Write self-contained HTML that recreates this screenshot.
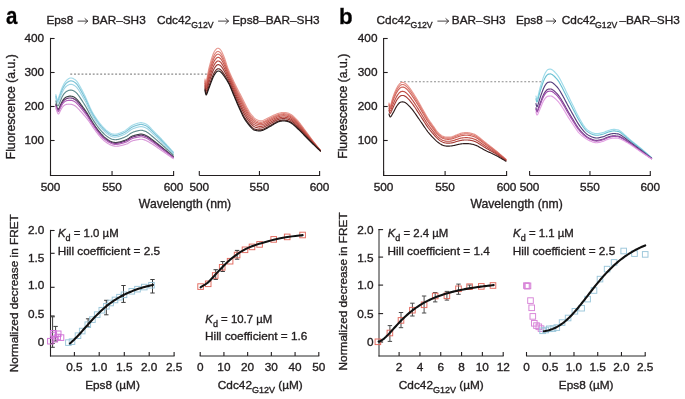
<!DOCTYPE html>
<html><head><meta charset="utf-8"><style>
html,body{margin:0;padding:0;background:#fff;}
body{width:685px;height:399px;overflow:hidden;}
svg{display:block;font-family:"Liberation Sans", sans-serif;filter:blur(0.25px);}
text{stroke:#231f20;stroke-width:0.35px;}
</style></head><body>
<svg width="685" height="399" viewBox="0 0 685 399">
<rect width="685" height="399" fill="#fff"/>
<text x="0" y="0" font-size="25" font-weight="bold" fill="#000" transform="translate(6.1,24.4) scale(0.82,0.95)">a</text>
<text x="0" y="0" font-size="23" font-weight="bold" fill="#000" transform="translate(338.9,23.6) scale(0.97,1)">b</text>
<text x="46.45" y="24.0" font-size="11.8" fill="#231f20">Eps8</text>
<path d="M77.6,21.1 H87.8 M84.7,18.400000000000002 L87.8,21.1 L84.7,23.8" fill="none" stroke="#231f20" stroke-width="0.85" stroke-linejoin="miter"/>
<text x="91.95" y="24.0" font-size="11.8" fill="#231f20">BAR–SH3</text>
<text x="157.0" y="24.0" font-size="11.8" fill="#231f20">Cdc42</text>
<text x="191.3" y="27.7" font-size="8.7" fill="#231f20">G12V</text>
<path d="M218.1,21.1 H228.6 M225.5,18.400000000000002 L228.6,21.1 L225.5,23.8" fill="none" stroke="#231f20" stroke-width="0.85" stroke-linejoin="miter"/>
<text x="232.25" y="24.0" font-size="11.8" fill="#231f20">Eps8–BAR–SH3</text>
<text x="376.6" y="24.0" font-size="11.8" fill="#231f20">Cdc42</text>
<text x="410.4" y="27.7" font-size="8.7" fill="#231f20">G12V</text>
<path d="M437.4,21.1 H448.7 M445.59999999999997,18.400000000000002 L448.7,21.1 L445.59999999999997,23.8" fill="none" stroke="#231f20" stroke-width="0.85" stroke-linejoin="miter"/>
<text x="451.85" y="24.0" font-size="11.8" fill="#231f20">BAR–SH3</text>
<text x="515.95" y="24.0" font-size="11.8" fill="#231f20">Eps8</text>
<path d="M545.8,21.1 H556.0 M552.9,18.400000000000002 L556.0,21.1 L552.9,23.8" fill="none" stroke="#231f20" stroke-width="0.85" stroke-linejoin="miter"/>
<text x="561.8" y="24.0" font-size="11.8" fill="#231f20">Cdc42</text>
<text x="595.1" y="27.7" font-size="8.7" fill="#231f20">G12V</text>
<text x="619.4" y="24.0" font-size="11.8" fill="#231f20">–BAR–SH3</text>
<line x1="49.95" y1="175.5" x2="174.1" y2="175.5" stroke="#231f20" stroke-width="1.1" />
<line x1="50.5" y1="175.5" x2="50.5" y2="170.9" stroke="#231f20" stroke-width="1.1" />
<line x1="112.05" y1="175.5" x2="112.05" y2="170.9" stroke="#231f20" stroke-width="1.1" />
<line x1="173.6" y1="175.5" x2="173.6" y2="170.9" stroke="#231f20" stroke-width="1.1" />
<text x="50.5" y="190.7" font-size="11.8" text-anchor="middle" font-weight="normal"  fill="#231f20" >500</text>
<text x="112.05" y="190.7" font-size="11.8" text-anchor="middle" font-weight="normal"  fill="#231f20" >550</text>
<text x="173.6" y="190.7" font-size="11.8" text-anchor="middle" font-weight="normal"  fill="#231f20" >600</text>
<line x1="50.5" y1="37.9" x2="50.5" y2="176.05" stroke="#231f20" stroke-width="1.1" />
<line x1="50.0" y1="38.5" x2="54.6" y2="38.5" stroke="#231f20" stroke-width="1.1" />
<text x="44.2" y="41.9" font-size="11.8" text-anchor="end" font-weight="normal"  fill="#231f20" >400</text>
<line x1="50.0" y1="72.5" x2="54.6" y2="72.5" stroke="#231f20" stroke-width="1.1" />
<text x="44.2" y="75.9" font-size="11.8" text-anchor="end" font-weight="normal"  fill="#231f20" >300</text>
<line x1="50.0" y1="106.5" x2="54.6" y2="106.5" stroke="#231f20" stroke-width="1.1" />
<text x="44.2" y="109.9" font-size="11.8" text-anchor="end" font-weight="normal"  fill="#231f20" >200</text>
<line x1="50.0" y1="140.5" x2="54.6" y2="140.5" stroke="#231f20" stroke-width="1.1" />
<text x="44.2" y="143.9" font-size="11.8" text-anchor="end" font-weight="normal"  fill="#231f20" >100</text>
<line x1="199.3" y1="175.5" x2="320.1" y2="175.5" stroke="#231f20" stroke-width="1.1" />
<line x1="199.3" y1="175.5" x2="199.3" y2="170.9" stroke="#231f20" stroke-width="1.1" />
<line x1="259.45000000000005" y1="175.5" x2="259.45000000000005" y2="170.9" stroke="#231f20" stroke-width="1.1" />
<line x1="319.6" y1="175.5" x2="319.6" y2="170.9" stroke="#231f20" stroke-width="1.1" />
<text x="199.3" y="190.7" font-size="11.8" text-anchor="middle" font-weight="normal"  fill="#231f20" >500</text>
<text x="259.45" y="190.7" font-size="11.8" text-anchor="middle" font-weight="normal"  fill="#231f20" >550</text>
<text x="319.6" y="190.7" font-size="11.8" text-anchor="middle" font-weight="normal"  fill="#231f20" >600</text>
<line x1="383.05" y1="175.5" x2="507.1" y2="175.5" stroke="#231f20" stroke-width="1.1" />
<line x1="383.6" y1="175.5" x2="383.6" y2="170.9" stroke="#231f20" stroke-width="1.1" />
<line x1="445.1" y1="175.5" x2="445.1" y2="170.9" stroke="#231f20" stroke-width="1.1" />
<line x1="506.6" y1="175.5" x2="506.6" y2="170.9" stroke="#231f20" stroke-width="1.1" />
<text x="383.6" y="190.7" font-size="11.8" text-anchor="middle" font-weight="normal"  fill="#231f20" >500</text>
<text x="445.1" y="190.7" font-size="11.8" text-anchor="middle" font-weight="normal"  fill="#231f20" >550</text>
<text x="506.6" y="190.7" font-size="11.8" text-anchor="middle" font-weight="normal"  fill="#231f20" >600</text>
<line x1="383.6" y1="37.9" x2="383.6" y2="176.05" stroke="#231f20" stroke-width="1.1" />
<line x1="383.1" y1="38.5" x2="387.70000000000005" y2="38.5" stroke="#231f20" stroke-width="1.1" />
<text x="377.5" y="41.9" font-size="11.8" text-anchor="end" font-weight="normal"  fill="#231f20" >400</text>
<line x1="383.1" y1="72.5" x2="387.70000000000005" y2="72.5" stroke="#231f20" stroke-width="1.1" />
<text x="377.5" y="75.9" font-size="11.8" text-anchor="end" font-weight="normal"  fill="#231f20" >300</text>
<line x1="383.1" y1="106.5" x2="387.70000000000005" y2="106.5" stroke="#231f20" stroke-width="1.1" />
<text x="377.5" y="109.9" font-size="11.8" text-anchor="end" font-weight="normal"  fill="#231f20" >200</text>
<line x1="383.1" y1="140.5" x2="387.70000000000005" y2="140.5" stroke="#231f20" stroke-width="1.1" />
<text x="377.5" y="143.9" font-size="11.8" text-anchor="end" font-weight="normal"  fill="#231f20" >100</text>
<line x1="529.6" y1="175.5" x2="650.8" y2="175.5" stroke="#231f20" stroke-width="1.1" />
<line x1="529.6" y1="175.5" x2="529.6" y2="170.9" stroke="#231f20" stroke-width="1.1" />
<line x1="589.95" y1="175.5" x2="589.95" y2="170.9" stroke="#231f20" stroke-width="1.1" />
<line x1="650.3" y1="175.5" x2="650.3" y2="170.9" stroke="#231f20" stroke-width="1.1" />
<text x="529.6" y="190.7" font-size="11.8" text-anchor="middle" font-weight="normal"  fill="#231f20" >500</text>
<text x="589.95" y="190.7" font-size="11.8" text-anchor="middle" font-weight="normal"  fill="#231f20" >550</text>
<text x="650.3" y="190.7" font-size="11.8" text-anchor="middle" font-weight="normal"  fill="#231f20" >600</text>
<text x="185.0" y="207.5" font-size="12.2" text-anchor="middle" font-weight="normal"  fill="#231f20" >Wavelength (nm)</text>
<text x="516.6" y="207.5" font-size="12.2" text-anchor="middle" font-weight="normal"  fill="#231f20" >Wavelength (nm)</text>
<text x="0" y="0" font-size="12.2" fill="#231f20" text-anchor="middle" transform="translate(15.0,106.8) rotate(-90)">Fluorescence (a.u.)</text>
<text x="0" y="0" font-size="12.2" fill="#231f20" text-anchor="middle" transform="translate(347.4,106.3) rotate(-90)">Fluorescence (a.u.)</text>
<line x1="70.3" y1="74.05" x2="207.8" y2="74.05" stroke="#8a8a8a" stroke-width="1.15" stroke-dasharray="1.9 1.84"/>
<line x1="400.2" y1="81.75" x2="543.3" y2="81.75" stroke="#8a8a8a" stroke-width="1.1" stroke-dasharray="1.9 1.86"/>
<path d="M55.90,94.50 L56.40,97.24 L56.90,99.35 L57.40,99.98 L57.90,99.32 L58.40,98.09 L58.90,96.67 L59.40,95.26 L59.90,93.92 L60.40,92.48 L60.90,91.00 L61.40,89.57 L61.90,88.24 L62.40,87.06 L62.90,85.95 L63.40,84.92 L63.90,83.99 L64.40,83.16 L64.90,82.41 L65.40,81.72 L65.90,81.10 L66.40,80.53 L66.90,80.03 L67.40,79.58 L67.90,79.19 L68.40,78.85 L68.90,78.56 L69.40,78.33 L69.90,78.15 L70.40,78.04 L70.90,77.99 L71.40,78.00 L71.90,78.06 L72.40,78.19 L72.90,78.38 L73.40,78.63 L73.90,78.93 L74.40,79.27 L74.90,79.59 L75.40,79.95 L75.90,80.37 L76.40,80.87 L76.90,81.45 L77.40,82.12 L77.90,82.85 L78.40,83.63 L78.90,84.46 L79.40,85.32 L79.90,86.20 L80.40,87.10 L80.90,88.01 L81.40,88.95 L81.90,89.89 L82.40,90.85 L82.90,91.82 L83.40,92.80 L83.90,93.79 L84.40,94.79 L84.90,95.80 L85.40,96.83 L85.90,97.91 L86.40,99.03 L86.90,100.18 L87.40,101.36 L87.90,102.54 L88.40,103.72 L88.90,104.90 L89.40,106.06 L89.90,107.19 L90.40,108.29 L90.90,109.35 L91.40,110.36 L91.90,111.31 L92.40,112.22 L92.90,113.10 L93.40,113.96 L93.90,114.79 L94.40,115.60 L94.90,116.39 L95.40,117.16 L95.90,117.91 L96.40,118.65 L96.90,119.37 L97.40,120.07 L97.90,120.76 L98.40,121.43 L98.90,122.09 L99.40,122.74 L99.90,123.37 L100.40,123.99 L100.90,124.60 L101.40,125.19 L101.90,125.76 L102.40,126.33 L102.90,126.87 L103.40,127.40 L103.90,127.92 L104.40,128.42 L104.90,128.90 L105.40,129.37 L105.90,129.82 L106.40,130.25 L106.90,130.66 L107.40,131.06 L107.90,131.43 L108.40,131.78 L108.90,132.12 L109.40,132.45 L109.90,132.76 L110.40,133.04 L110.90,133.30 L111.40,133.52 L111.90,133.71 L112.40,133.87 L112.90,134.00 L113.40,134.10 L113.90,134.16 L114.40,134.19 L114.90,134.20 L115.40,134.18 L115.90,134.13 L116.40,134.06 L116.90,133.96 L117.40,133.85 L117.90,133.72 L118.40,133.57 L118.90,133.41 L119.40,133.24 L119.90,133.05 L120.40,132.86 L120.90,132.65 L121.40,132.44 L121.90,132.22 L122.40,131.99 L122.90,131.75 L123.40,131.50 L123.90,131.25 L124.40,130.98 L124.90,130.69 L125.40,130.37 L125.90,130.02 L126.40,129.66 L126.90,129.28 L127.40,128.89 L127.90,128.49 L128.40,128.08 L128.90,127.68 L129.40,127.28 L129.90,126.90 L130.40,126.53 L130.90,126.18 L131.40,125.85 L131.90,125.56 L132.40,125.29 L132.90,125.04 L133.40,124.81 L133.90,124.59 L134.40,124.38 L134.90,124.19 L135.40,124.00 L135.90,123.83 L136.40,123.66 L136.90,123.50 L137.40,123.35 L137.90,123.21 L138.40,123.07 L138.90,122.94 L139.40,122.82 L139.90,122.72 L140.40,122.63 L140.90,122.59 L141.40,122.60 L141.90,122.69 L142.40,122.83 L142.90,122.97 L143.40,123.11 L143.90,123.24 L144.40,123.39 L144.90,123.55 L145.40,123.75 L145.90,123.98 L146.40,124.26 L146.90,124.57 L147.40,124.92 L147.90,125.32 L148.40,125.76 L148.90,126.23 L149.40,126.72 L149.90,127.22 L150.40,127.74 L150.90,128.26 L151.40,128.79 L151.90,129.32 L152.40,129.85 L152.90,130.38 L153.40,130.89 L153.90,131.40 L154.40,131.90 L154.90,132.39 L155.40,132.89 L155.90,133.38 L156.40,133.87 L156.90,134.36 L157.40,134.86 L157.90,135.36 L158.40,135.86 L158.90,136.36 L159.40,136.87 L159.90,137.39 L160.40,137.92 L160.90,138.45 L161.40,138.99 L161.90,139.53 L162.40,140.08 L162.90,140.63 L163.40,141.18 L163.90,141.74 L164.40,142.29 L164.90,142.85 L165.40,143.41 L165.90,143.96 L166.40,144.51 L166.90,145.06 L167.40,145.61 L167.90,146.16 L168.40,146.71 L168.90,147.26 L169.40,147.81 L169.90,148.36 L170.40,148.91 L170.90,149.47 L171.40,150.02 L171.90,150.57 L172.40,151.12 L172.90,151.67 L173.20,152.00" fill="none" stroke="#a6dcea" stroke-width="1.15" stroke-linejoin="round" stroke-linecap="round" />
<path d="M55.90,96.04 L56.40,98.63 L56.90,100.66 L57.40,101.37 L57.90,100.88 L58.40,99.85 L58.90,98.54 L59.40,97.19 L59.90,95.88 L60.40,94.48 L60.90,93.07 L61.40,91.70 L61.90,90.42 L62.40,89.28 L62.90,88.22 L63.40,87.25 L63.90,86.37 L64.40,85.59 L64.90,84.88 L65.40,84.25 L65.90,83.68 L66.40,83.16 L66.90,82.70 L67.40,82.30 L67.90,81.95 L68.40,81.64 L68.90,81.38 L69.40,81.17 L69.90,81.02 L70.40,80.92 L70.90,80.89 L71.40,80.90 L71.90,80.97 L72.40,81.09 L72.90,81.28 L73.40,81.52 L73.90,81.82 L74.40,82.14 L74.90,82.47 L75.40,82.82 L75.90,83.24 L76.40,83.74 L76.90,84.31 L77.40,84.95 L77.90,85.66 L78.40,86.41 L78.90,87.21 L79.40,88.03 L79.90,88.87 L80.40,89.73 L80.90,90.61 L81.40,91.50 L81.90,92.40 L82.40,93.32 L82.90,94.24 L83.40,95.18 L83.90,96.12 L84.40,97.07 L84.90,98.03 L85.40,99.02 L85.90,100.04 L86.40,101.11 L86.90,102.20 L87.40,103.32 L87.90,104.44 L88.40,105.57 L88.90,106.70 L89.40,107.81 L89.90,108.90 L90.40,109.95 L90.90,110.98 L91.40,111.96 L91.90,112.89 L92.40,113.78 L92.90,114.64 L93.40,115.49 L93.90,116.31 L94.40,117.11 L94.90,117.89 L95.40,118.65 L95.90,119.40 L96.40,120.13 L96.90,120.84 L97.40,121.54 L97.90,122.22 L98.40,122.89 L98.90,123.55 L99.40,124.19 L99.90,124.82 L100.40,125.43 L100.90,126.03 L101.40,126.62 L101.90,127.18 L102.40,127.74 L102.90,128.28 L103.40,128.80 L103.90,129.31 L104.40,129.80 L104.90,130.27 L105.40,130.73 L105.90,131.17 L106.40,131.59 L106.90,132.00 L107.40,132.39 L107.90,132.75 L108.40,133.10 L108.90,133.44 L109.40,133.76 L109.90,134.06 L110.40,134.34 L110.90,134.59 L111.40,134.82 L111.90,135.01 L112.40,135.17 L112.90,135.30 L113.40,135.40 L113.90,135.46 L114.40,135.51 L114.90,135.52 L115.40,135.51 L115.90,135.47 L116.40,135.40 L116.90,135.31 L117.40,135.21 L117.90,135.08 L118.40,134.95 L118.90,134.79 L119.40,134.63 L119.90,134.46 L120.40,134.27 L120.90,134.08 L121.40,133.87 L121.90,133.66 L122.40,133.44 L122.90,133.22 L123.40,132.98 L123.90,132.74 L124.40,132.49 L124.90,132.21 L125.40,131.91 L125.90,131.59 L126.40,131.25 L126.90,130.89 L127.40,130.51 L127.90,130.13 L128.40,129.74 L128.90,129.34 L129.40,128.95 L129.90,128.57 L130.40,128.20 L130.90,127.86 L131.40,127.54 L131.90,127.26 L132.40,127.00 L132.90,126.77 L133.40,126.54 L133.90,126.33 L134.40,126.14 L134.90,125.95 L135.40,125.77 L135.90,125.60 L136.40,125.45 L136.90,125.29 L137.40,125.15 L137.90,125.01 L138.40,124.88 L138.90,124.76 L139.40,124.65 L139.90,124.54 L140.40,124.46 L140.90,124.42 L141.40,124.43 L141.90,124.52 L142.40,124.65 L142.90,124.79 L143.40,124.92 L143.90,125.06 L144.40,125.20 L144.90,125.37 L145.40,125.57 L145.90,125.80 L146.40,126.07 L146.90,126.38 L147.40,126.72 L147.90,127.10 L148.40,127.52 L148.90,127.97 L149.40,128.44 L149.90,128.92 L150.40,129.41 L150.90,129.91 L151.40,130.42 L151.90,130.93 L152.40,131.43 L152.90,131.93 L153.40,132.43 L153.90,132.91 L154.40,133.39 L154.90,133.87 L155.40,134.35 L155.90,134.82 L156.40,135.30 L156.90,135.78 L157.40,136.26 L157.90,136.74 L158.40,137.23 L158.90,137.71 L159.40,138.21 L159.90,138.71 L160.40,139.21 L160.90,139.72 L161.40,140.24 L161.90,140.76 L162.40,141.29 L162.90,141.82 L163.40,142.35 L163.90,142.88 L164.40,143.42 L164.90,143.95 L165.40,144.48 L165.90,145.01 L166.40,145.54 L166.90,146.07 L167.40,146.59 L167.90,147.12 L168.40,147.65 L168.90,148.18 L169.40,148.71 L169.90,149.24 L170.40,149.77 L170.90,150.29 L171.40,150.82 L171.90,151.35 L172.40,151.88 L172.90,152.41 L173.20,152.73" fill="none" stroke="#7cc3d6" stroke-width="1.15" stroke-linejoin="round" stroke-linecap="round" />
<path d="M55.90,97.86 L56.40,100.27 L56.90,102.22 L57.40,103.00 L57.90,102.74 L58.40,101.92 L58.90,100.76 L59.40,99.48 L59.90,98.19 L60.40,96.84 L60.90,95.52 L61.40,94.22 L61.90,93.00 L62.40,91.91 L62.90,90.91 L63.40,90.00 L63.90,89.18 L64.40,88.46 L64.90,87.81 L65.40,87.24 L65.90,86.72 L66.40,86.26 L66.90,85.86 L67.40,85.50 L67.90,85.20 L68.40,84.93 L68.90,84.71 L69.40,84.54 L69.90,84.41 L70.40,84.33 L70.90,84.31 L71.40,84.33 L71.90,84.41 L72.40,84.53 L72.90,84.71 L73.40,84.95 L73.90,85.23 L74.40,85.55 L74.90,85.87 L75.40,86.22 L75.90,86.64 L76.40,87.13 L76.90,87.68 L77.40,88.31 L77.90,88.98 L78.40,89.70 L78.90,90.45 L79.40,91.23 L79.90,92.03 L80.40,92.85 L80.90,93.68 L81.40,94.52 L81.90,95.37 L82.40,96.24 L82.90,97.11 L83.40,97.99 L83.90,98.88 L84.40,99.77 L84.90,100.68 L85.40,101.60 L85.90,102.57 L86.40,103.56 L86.90,104.59 L87.40,105.64 L87.90,106.70 L88.40,107.76 L88.90,108.82 L89.40,109.88 L89.90,110.91 L90.40,111.92 L90.90,112.90 L91.40,113.85 L91.90,114.75 L92.40,115.62 L92.90,116.46 L93.40,117.29 L93.90,118.10 L94.40,118.89 L94.90,119.66 L95.40,120.41 L95.90,121.15 L96.40,121.88 L96.90,122.59 L97.40,123.28 L97.90,123.95 L98.40,124.61 L98.90,125.26 L99.40,125.90 L99.90,126.52 L100.40,127.13 L100.90,127.72 L101.40,128.30 L101.90,128.86 L102.40,129.41 L102.90,129.94 L103.40,130.45 L103.90,130.95 L104.40,131.43 L104.90,131.90 L105.40,132.34 L105.90,132.77 L106.40,133.18 L106.90,133.58 L107.40,133.96 L107.90,134.32 L108.40,134.66 L108.90,134.99 L109.40,135.31 L109.90,135.60 L110.40,135.88 L110.90,136.13 L111.40,136.35 L111.90,136.54 L112.40,136.70 L112.90,136.83 L113.40,136.94 L113.90,137.01 L114.40,137.06 L114.90,137.08 L115.40,137.07 L115.90,137.04 L116.40,136.98 L116.90,136.91 L117.40,136.81 L117.90,136.70 L118.40,136.57 L118.90,136.43 L119.40,136.28 L119.90,136.12 L120.40,135.94 L120.90,135.76 L121.40,135.57 L121.90,135.37 L122.40,135.17 L122.90,134.95 L123.40,134.73 L123.90,134.51 L124.40,134.27 L124.90,134.01 L125.40,133.73 L125.90,133.43 L126.40,133.12 L126.90,132.78 L127.40,132.43 L127.90,132.07 L128.40,131.69 L128.90,131.31 L129.40,130.92 L129.90,130.55 L130.40,130.19 L130.90,129.85 L131.40,129.55 L131.90,129.27 L132.40,129.03 L132.90,128.80 L133.40,128.59 L133.90,128.39 L134.40,128.21 L134.90,128.03 L135.40,127.86 L135.90,127.71 L136.40,127.56 L136.90,127.41 L137.40,127.28 L137.90,127.15 L138.40,127.03 L138.90,126.91 L139.40,126.80 L139.90,126.71 L140.40,126.63 L140.90,126.58 L141.40,126.59 L141.90,126.67 L142.40,126.80 L142.90,126.93 L143.40,127.07 L143.90,127.20 L144.40,127.35 L144.90,127.52 L145.40,127.72 L145.90,127.95 L146.40,128.21 L146.90,128.51 L147.40,128.84 L147.90,129.21 L148.40,129.61 L148.90,130.03 L149.40,130.47 L149.90,130.92 L150.40,131.39 L150.90,131.86 L151.40,132.34 L151.90,132.82 L152.40,133.30 L152.90,133.77 L153.40,134.24 L153.90,134.70 L154.40,135.16 L154.90,135.62 L155.40,136.08 L155.90,136.53 L156.40,136.99 L156.90,137.45 L157.40,137.91 L157.90,138.38 L158.40,138.84 L158.90,139.31 L159.40,139.79 L159.90,140.26 L160.40,140.75 L160.90,141.23 L161.40,141.73 L161.90,142.22 L162.40,142.72 L162.90,143.22 L163.40,143.73 L163.90,144.23 L164.40,144.74 L164.90,145.25 L165.40,145.75 L165.90,146.25 L166.40,146.76 L166.90,147.26 L167.40,147.76 L167.90,148.26 L168.40,148.76 L168.90,149.26 L169.40,149.77 L169.90,150.27 L170.40,150.77 L170.90,151.27 L171.40,151.78 L171.90,152.28 L172.40,152.78 L172.90,153.28 L173.20,153.58" fill="none" stroke="#9fd6e6" stroke-width="1.15" stroke-linejoin="round" stroke-linecap="round" />
<path d="M55.90,100.94 L56.40,103.06 L56.90,104.85 L57.40,105.77 L57.90,105.87 L58.40,105.42 L58.90,104.51 L59.40,103.34 L59.90,102.10 L60.40,100.85 L60.90,99.66 L61.40,98.48 L61.90,97.36 L62.40,96.36 L62.90,95.45 L63.40,94.65 L63.90,93.94 L64.40,93.31 L64.90,92.77 L65.40,92.29 L65.90,91.88 L66.40,91.51 L66.90,91.20 L67.40,90.93 L67.90,90.70 L68.40,90.51 L68.90,90.35 L69.40,90.23 L69.90,90.15 L70.40,90.10 L70.90,90.10 L71.40,90.14 L71.90,90.22 L72.40,90.35 L72.90,90.52 L73.40,90.74 L73.90,91.01 L74.40,91.31 L74.90,91.62 L75.40,91.98 L75.90,92.39 L76.40,92.86 L76.90,93.39 L77.40,93.98 L77.90,94.60 L78.40,95.26 L78.90,95.95 L79.40,96.65 L79.90,97.38 L80.40,98.12 L80.90,98.87 L81.40,99.63 L81.90,100.40 L82.40,101.18 L82.90,101.97 L83.40,102.76 L83.90,103.55 L84.40,104.35 L84.90,105.15 L85.40,105.97 L85.90,106.83 L86.40,107.72 L86.90,108.63 L87.40,109.56 L87.90,110.51 L88.40,111.46 L88.90,112.42 L89.40,113.37 L89.90,114.32 L90.40,115.25 L90.90,116.16 L91.40,117.04 L91.90,117.90 L92.40,118.73 L92.90,119.54 L93.40,120.34 L93.90,121.13 L94.40,121.90 L94.90,122.65 L95.40,123.40 L95.90,124.13 L96.40,124.84 L96.90,125.54 L97.40,126.22 L97.90,126.88 L98.40,127.53 L98.90,128.17 L99.40,128.79 L99.90,129.40 L100.40,130.00 L100.90,130.58 L101.40,131.15 L101.90,131.70 L102.40,132.24 L102.90,132.75 L103.40,133.25 L103.90,133.73 L104.40,134.20 L104.90,134.64 L105.40,135.07 L105.90,135.48 L106.40,135.88 L106.90,136.26 L107.40,136.62 L107.90,136.97 L108.40,137.30 L108.90,137.62 L109.40,137.93 L109.90,138.21 L110.40,138.48 L110.90,138.72 L111.40,138.94 L111.90,139.13 L112.40,139.29 L112.90,139.43 L113.40,139.54 L113.90,139.62 L114.40,139.68 L114.90,139.71 L115.40,139.72 L115.90,139.71 L116.40,139.66 L116.90,139.60 L117.40,139.52 L117.90,139.43 L118.40,139.32 L118.90,139.20 L119.40,139.07 L119.90,138.92 L120.40,138.77 L120.90,138.61 L121.40,138.44 L121.90,138.26 L122.40,138.08 L122.90,137.89 L123.40,137.70 L123.90,137.50 L124.40,137.29 L124.90,137.06 L125.40,136.82 L125.90,136.56 L126.40,136.29 L126.90,136.00 L127.40,135.68 L127.90,135.35 L128.40,135.00 L128.90,134.63 L129.40,134.26 L129.90,133.89 L130.40,133.55 L130.90,133.22 L131.40,132.93 L131.90,132.68 L132.40,132.45 L132.90,132.25 L133.40,132.06 L133.90,131.88 L134.40,131.71 L134.90,131.56 L135.40,131.41 L135.90,131.26 L136.40,131.13 L136.90,131.00 L137.40,130.88 L137.90,130.76 L138.40,130.66 L138.90,130.55 L139.40,130.45 L139.90,130.37 L140.40,130.29 L140.90,130.25 L141.40,130.25 L141.90,130.32 L142.40,130.43 L142.90,130.56 L143.40,130.69 L143.90,130.83 L144.40,130.99 L144.90,131.16 L145.40,131.36 L145.90,131.59 L146.40,131.84 L146.90,132.13 L147.40,132.43 L147.90,132.77 L148.40,133.13 L148.90,133.51 L149.40,133.91 L149.90,134.32 L150.40,134.74 L150.90,135.16 L151.40,135.59 L151.90,136.02 L152.40,136.45 L152.90,136.88 L153.40,137.31 L153.90,137.73 L154.40,138.15 L154.90,138.58 L155.40,139.00 L155.90,139.42 L156.40,139.85 L156.90,140.28 L157.40,140.71 L157.90,141.15 L158.40,141.58 L158.90,142.02 L159.40,142.46 L159.90,142.90 L160.40,143.34 L160.90,143.79 L161.40,144.24 L161.90,144.69 L162.40,145.15 L162.90,145.60 L163.40,146.06 L163.90,146.52 L164.40,146.98 L164.90,147.44 L165.40,147.90 L165.90,148.36 L166.40,148.82 L166.90,149.27 L167.40,149.73 L167.90,150.19 L168.40,150.64 L168.90,151.10 L169.40,151.56 L169.90,152.02 L170.40,152.47 L170.90,152.93 L171.40,153.39 L171.90,153.85 L172.40,154.30 L172.90,154.76 L173.20,155.04" fill="none" stroke="#5f8c8e" stroke-width="1.15" stroke-linejoin="round" stroke-linecap="round" />
<path d="M55.90,104.16 L56.40,105.96 L56.90,107.59 L57.40,108.67 L57.90,109.15 L58.40,109.09 L58.90,108.43 L59.40,107.38 L59.90,106.19 L60.40,105.03 L60.90,103.99 L61.40,102.93 L61.90,101.92 L62.40,101.01 L62.90,100.21 L63.40,99.52 L63.90,98.91 L64.40,98.39 L64.90,97.95 L65.40,97.58 L65.90,97.27 L66.40,97.00 L66.90,96.79 L67.40,96.61 L67.90,96.46 L68.40,96.34 L68.90,96.25 L69.40,96.18 L69.90,96.14 L70.40,96.14 L70.90,96.16 L71.40,96.21 L71.90,96.30 L72.40,96.43 L72.90,96.59 L73.40,96.80 L73.90,97.05 L74.40,97.33 L74.90,97.64 L75.40,97.99 L75.90,98.39 L76.40,98.85 L76.90,99.36 L77.40,99.91 L77.90,100.48 L78.40,101.07 L78.90,101.69 L79.40,102.32 L79.90,102.97 L80.40,103.63 L80.90,104.30 L81.40,104.97 L81.90,105.66 L82.40,106.35 L82.90,107.04 L83.40,107.74 L83.90,108.43 L84.40,109.13 L84.90,109.83 L85.40,110.54 L85.90,111.29 L86.40,112.06 L86.90,112.86 L87.40,113.67 L87.90,114.49 L88.40,115.33 L88.90,116.18 L89.40,117.03 L89.90,117.88 L90.40,118.73 L90.90,119.56 L91.40,120.39 L91.90,121.19 L92.40,121.98 L92.90,122.76 L93.40,123.53 L93.90,124.30 L94.40,125.05 L94.90,125.79 L95.40,126.52 L95.90,127.23 L96.40,127.94 L96.90,128.62 L97.40,129.29 L97.90,129.95 L98.40,130.58 L98.90,131.20 L99.40,131.82 L99.90,132.42 L100.40,133.00 L100.90,133.58 L101.40,134.13 L101.90,134.67 L102.40,135.19 L102.90,135.69 L103.40,136.18 L103.90,136.64 L104.40,137.09 L104.90,137.51 L105.40,137.92 L105.90,138.31 L106.40,138.69 L106.90,139.05 L107.40,139.40 L107.90,139.74 L108.40,140.06 L108.90,140.37 L109.40,140.67 L109.90,140.94 L110.40,141.20 L110.90,141.44 L111.40,141.65 L111.90,141.84 L112.40,142.00 L112.90,142.15 L113.40,142.26 L113.90,142.36 L114.40,142.42 L114.90,142.47 L115.40,142.50 L115.90,142.49 L116.40,142.47 L116.90,142.42 L117.40,142.36 L117.90,142.28 L118.40,142.19 L118.90,142.09 L119.40,141.98 L119.90,141.86 L120.40,141.73 L120.90,141.59 L121.40,141.44 L121.90,141.29 L122.40,141.13 L122.90,140.96 L123.40,140.79 L123.90,140.62 L124.40,140.44 L124.90,140.24 L125.40,140.04 L125.90,139.83 L126.40,139.60 L126.90,139.35 L127.40,139.08 L127.90,138.78 L128.40,138.45 L128.90,138.11 L129.40,137.75 L129.90,137.39 L130.40,137.05 L130.90,136.75 L131.40,136.47 L131.90,136.24 L132.40,136.04 L132.90,135.85 L133.40,135.68 L133.90,135.53 L134.40,135.38 L134.90,135.24 L135.40,135.11 L135.90,134.98 L136.40,134.86 L136.90,134.75 L137.40,134.65 L137.90,134.54 L138.40,134.45 L138.90,134.36 L139.40,134.27 L139.90,134.19 L140.40,134.12 L140.90,134.08 L141.40,134.08 L141.90,134.14 L142.40,134.24 L142.90,134.36 L143.40,134.49 L143.90,134.63 L144.40,134.79 L144.90,134.97 L145.40,135.17 L145.90,135.39 L146.40,135.64 L146.90,135.90 L147.40,136.19 L147.90,136.49 L148.40,136.82 L148.90,137.16 L149.40,137.51 L149.90,137.87 L150.40,138.24 L150.90,138.61 L151.40,138.99 L151.90,139.37 L152.40,139.75 L152.90,140.14 L153.40,140.52 L153.90,140.90 L154.40,141.28 L154.90,141.67 L155.40,142.06 L155.90,142.45 L156.40,142.84 L156.90,143.24 L157.40,143.64 L157.90,144.04 L158.40,144.44 L158.90,144.84 L159.40,145.25 L159.90,145.65 L160.40,146.05 L160.90,146.46 L161.40,146.86 L161.90,147.27 L162.40,147.68 L162.90,148.09 L163.40,148.50 L163.90,148.91 L164.40,149.32 L164.90,149.74 L165.40,150.15 L165.90,150.56 L166.40,150.97 L166.90,151.38 L167.40,151.79 L167.90,152.20 L168.40,152.61 L168.90,153.02 L169.40,153.43 L169.90,153.84 L170.40,154.25 L170.90,154.66 L171.40,155.07 L171.90,155.49 L172.40,155.90 L172.90,156.31 L173.20,156.55" fill="none" stroke="#3c4446" stroke-width="1.15" stroke-linejoin="round" stroke-linecap="round" />
<path d="M55.90,105.14 L56.40,106.85 L56.90,108.43 L57.40,109.55 L57.90,110.15 L58.40,110.20 L58.90,109.62 L59.40,108.61 L59.90,107.43 L60.40,106.30 L60.90,105.31 L61.40,104.29 L61.90,103.31 L62.40,102.42 L62.90,101.65 L63.40,101.00 L63.90,100.43 L64.40,99.94 L64.90,99.53 L65.40,99.19 L65.90,98.91 L66.40,98.67 L66.90,98.49 L67.40,98.33 L67.90,98.21 L68.40,98.11 L68.90,98.04 L69.40,97.99 L69.90,97.97 L70.40,97.97 L70.90,98.00 L71.40,98.06 L71.90,98.15 L72.40,98.28 L72.90,98.44 L73.40,98.64 L73.90,98.88 L74.40,99.16 L74.90,99.47 L75.40,99.82 L75.90,100.22 L76.40,100.68 L76.90,101.18 L77.40,101.71 L77.90,102.27 L78.40,102.84 L78.90,103.44 L79.40,104.05 L79.90,104.67 L80.40,105.31 L80.90,105.95 L81.40,106.60 L81.90,107.26 L82.40,107.92 L82.90,108.59 L83.40,109.26 L83.90,109.92 L84.40,110.58 L84.90,111.25 L85.40,111.93 L85.90,112.65 L86.40,113.38 L86.90,114.14 L87.40,114.92 L87.90,115.71 L88.40,116.51 L88.90,117.33 L89.40,118.15 L89.90,118.97 L90.40,119.79 L90.90,120.60 L91.40,121.40 L91.90,122.19 L92.40,122.97 L92.90,123.74 L93.40,124.51 L93.90,125.26 L94.40,126.01 L94.90,126.74 L95.40,127.46 L95.90,128.18 L96.40,128.88 L96.90,129.56 L97.40,130.23 L97.90,130.88 L98.40,131.51 L98.90,132.13 L99.40,132.74 L99.90,133.33 L100.40,133.92 L100.90,134.49 L101.40,135.04 L101.90,135.57 L102.40,136.09 L102.90,136.59 L103.40,137.07 L103.90,137.53 L104.40,137.97 L104.90,138.39 L105.40,138.79 L105.90,139.17 L106.40,139.54 L106.90,139.90 L107.40,140.25 L107.90,140.58 L108.40,140.90 L108.90,141.21 L109.40,141.50 L109.90,141.77 L110.40,142.03 L110.90,142.26 L111.40,142.47 L111.90,142.66 L112.40,142.83 L112.90,142.97 L113.40,143.09 L113.90,143.19 L114.40,143.26 L114.90,143.31 L115.40,143.34 L115.90,143.34 L116.40,143.32 L116.90,143.28 L117.40,143.22 L117.90,143.15 L118.40,143.07 L118.90,142.97 L119.40,142.87 L119.90,142.75 L120.40,142.63 L120.90,142.49 L121.40,142.36 L121.90,142.21 L122.40,142.06 L122.90,141.90 L123.40,141.74 L123.90,141.57 L124.40,141.39 L124.90,141.21 L125.40,141.02 L125.90,140.82 L126.40,140.61 L126.90,140.37 L127.40,140.11 L127.90,139.82 L128.40,139.50 L128.90,139.16 L129.40,138.81 L129.90,138.46 L130.40,138.12 L130.90,137.82 L131.40,137.55 L131.90,137.32 L132.40,137.13 L132.90,136.95 L133.40,136.79 L133.90,136.64 L134.40,136.49 L134.90,136.36 L135.40,136.23 L135.90,136.11 L136.40,136.00 L136.90,135.89 L137.40,135.79 L137.90,135.69 L138.40,135.60 L138.90,135.51 L139.40,135.43 L139.90,135.36 L140.40,135.29 L140.90,135.25 L141.40,135.24 L141.90,135.30 L142.40,135.40 L142.90,135.52 L143.40,135.64 L143.90,135.79 L144.40,135.95 L144.90,136.13 L145.40,136.33 L145.90,136.55 L146.40,136.79 L146.90,137.05 L147.40,137.33 L147.90,137.63 L148.40,137.94 L148.90,138.27 L149.40,138.60 L149.90,138.95 L150.40,139.30 L150.90,139.66 L151.40,140.02 L151.90,140.39 L152.40,140.76 L152.90,141.12 L153.40,141.49 L153.90,141.86 L154.40,142.23 L154.90,142.61 L155.40,142.99 L155.90,143.37 L156.40,143.75 L156.90,144.14 L157.40,144.53 L157.90,144.92 L158.40,145.31 L158.90,145.70 L159.40,146.10 L159.90,146.49 L160.40,146.88 L160.90,147.27 L161.40,147.66 L161.90,148.06 L162.40,148.45 L162.90,148.85 L163.40,149.24 L163.90,149.64 L164.40,150.04 L164.90,150.43 L165.40,150.83 L165.90,151.23 L166.40,151.62 L166.90,152.02 L167.40,152.42 L167.90,152.81 L168.40,153.21 L168.90,153.60 L169.40,154.00 L169.90,154.40 L170.40,154.79 L170.90,155.19 L171.40,155.59 L171.90,155.98 L172.40,156.38 L172.90,156.78 L173.20,157.02" fill="none" stroke="#6c3477" stroke-width="1.15" stroke-linejoin="round" stroke-linecap="round" />
<path d="M55.90,106.40 L56.40,107.99 L56.90,109.51 L57.40,110.68 L57.90,111.43 L58.40,111.64 L58.90,111.16 L59.40,110.19 L59.90,109.03 L60.40,107.94 L60.90,107.00 L61.40,106.03 L61.90,105.09 L62.40,104.24 L62.90,103.51 L63.40,102.91 L63.90,102.37 L64.40,101.93 L64.90,101.56 L65.40,101.26 L65.90,101.02 L66.40,100.82 L66.90,100.67 L67.40,100.55 L67.90,100.46 L68.40,100.40 L68.90,100.35 L69.40,100.32 L69.90,100.32 L70.40,100.33 L70.90,100.37 L71.40,100.44 L71.90,100.53 L72.40,100.66 L72.90,100.81 L73.40,101.01 L73.90,101.24 L74.40,101.52 L74.90,101.82 L75.40,102.17 L75.90,102.57 L76.40,103.03 L76.90,103.52 L77.40,104.03 L77.90,104.57 L78.40,105.12 L78.90,105.68 L79.40,106.26 L79.90,106.86 L80.40,107.46 L80.90,108.07 L81.40,108.69 L81.90,109.31 L82.40,109.94 L82.90,110.57 L83.40,111.21 L83.90,111.83 L84.40,112.45 L84.90,113.08 L85.40,113.72 L85.90,114.39 L86.40,115.08 L86.90,115.79 L87.40,116.52 L87.90,117.27 L88.40,118.02 L88.90,118.80 L89.40,119.58 L89.90,120.36 L90.40,121.15 L90.90,121.93 L91.40,122.71 L91.90,123.48 L92.40,124.25 L92.90,125.00 L93.40,125.76 L93.90,126.50 L94.40,127.24 L94.90,127.97 L95.40,128.69 L95.90,129.39 L96.40,130.09 L96.90,130.77 L97.40,131.43 L97.90,132.08 L98.40,132.70 L98.90,133.32 L99.40,133.92 L99.90,134.51 L100.40,135.09 L100.90,135.66 L101.40,136.21 L101.90,136.73 L102.40,137.25 L102.90,137.74 L103.40,138.21 L103.90,138.66 L104.40,139.10 L104.90,139.51 L105.40,139.90 L105.90,140.28 L106.40,140.65 L106.90,141.00 L107.40,141.34 L107.90,141.67 L108.40,141.98 L108.90,142.29 L109.40,142.57 L109.90,142.84 L110.40,143.09 L110.90,143.32 L111.40,143.53 L111.90,143.72 L112.40,143.89 L112.90,144.03 L113.40,144.16 L113.90,144.26 L114.40,144.33 L114.90,144.39 L115.40,144.42 L115.90,144.43 L116.40,144.41 L116.90,144.38 L117.40,144.33 L117.90,144.27 L118.40,144.19 L118.90,144.10 L119.40,144.01 L119.90,143.90 L120.40,143.78 L120.90,143.66 L121.40,143.53 L121.90,143.39 L122.40,143.25 L122.90,143.10 L123.40,142.95 L123.90,142.79 L124.40,142.63 L124.90,142.46 L125.40,142.28 L125.90,142.10 L126.40,141.91 L126.90,141.69 L127.40,141.44 L127.90,141.16 L128.40,140.86 L128.90,140.52 L129.40,140.18 L129.90,139.83 L130.40,139.50 L130.90,139.20 L131.40,138.94 L131.90,138.72 L132.40,138.53 L132.90,138.36 L133.40,138.21 L133.90,138.06 L134.40,137.93 L134.90,137.80 L135.40,137.68 L135.90,137.57 L136.40,137.46 L136.90,137.36 L137.40,137.27 L137.90,137.17 L138.40,137.09 L138.90,137.00 L139.40,136.93 L139.90,136.85 L140.40,136.79 L140.90,136.75 L141.40,136.74 L141.90,136.79 L142.40,136.88 L142.90,137.00 L143.40,137.13 L143.90,137.27 L144.40,137.44 L144.90,137.62 L145.40,137.82 L145.90,138.04 L146.40,138.28 L146.90,138.53 L147.40,138.80 L147.90,139.08 L148.40,139.38 L148.90,139.69 L149.40,140.01 L149.90,140.34 L150.40,140.67 L150.90,141.01 L151.40,141.35 L151.90,141.70 L152.40,142.05 L152.90,142.40 L153.40,142.75 L153.90,143.10 L154.40,143.46 L154.90,143.82 L155.40,144.18 L155.90,144.55 L156.40,144.92 L156.90,145.30 L157.40,145.68 L157.90,146.05 L158.40,146.43 L158.90,146.81 L159.40,147.19 L159.90,147.56 L160.40,147.94 L160.90,148.31 L161.40,148.69 L161.90,149.07 L162.40,149.44 L162.90,149.82 L163.40,150.20 L163.90,150.58 L164.40,150.95 L164.90,151.33 L165.40,151.71 L165.90,152.09 L166.40,152.47 L166.90,152.84 L167.40,153.22 L167.90,153.60 L168.40,153.98 L168.90,154.36 L169.40,154.73 L169.90,155.11 L170.40,155.49 L170.90,155.87 L171.40,156.25 L171.90,156.63 L172.40,157.00 L172.90,157.38 L173.20,157.61" fill="none" stroke="#b462bb" stroke-width="1.15" stroke-linejoin="round" stroke-linecap="round" />
<path d="M55.90,108.50 L56.40,109.88 L56.90,111.30 L57.40,112.57 L57.90,113.56 L58.40,114.03 L58.90,113.71 L59.40,112.83 L59.90,111.70 L60.40,110.67 L60.90,109.83 L61.40,108.94 L61.90,108.06 L62.40,107.27 L62.90,106.61 L63.40,106.08 L63.90,105.62 L64.40,105.24 L64.90,104.94 L65.40,104.70 L65.90,104.53 L66.40,104.40 L66.90,104.31 L67.40,104.26 L67.90,104.22 L68.40,104.20 L68.90,104.19 L69.40,104.20 L69.90,104.23 L70.40,104.27 L70.90,104.33 L71.40,104.40 L71.90,104.50 L72.40,104.62 L72.90,104.77 L73.40,104.96 L73.90,105.18 L74.40,105.44 L74.90,105.75 L75.40,106.09 L75.90,106.49 L76.40,106.94 L76.90,107.41 L77.40,107.90 L77.90,108.40 L78.40,108.91 L78.90,109.43 L79.40,109.96 L79.90,110.50 L80.40,111.06 L80.90,111.61 L81.40,112.18 L81.90,112.74 L82.40,113.31 L82.90,113.89 L83.40,114.46 L83.90,115.01 L84.40,115.57 L84.90,116.13 L85.40,116.70 L85.90,117.30 L86.40,117.91 L86.90,118.55 L87.40,119.20 L87.90,119.87 L88.40,120.55 L88.90,121.25 L89.40,121.96 L89.90,122.69 L90.40,123.42 L90.90,124.15 L91.40,124.89 L91.90,125.63 L92.40,126.37 L92.90,127.10 L93.40,127.84 L93.90,128.57 L94.40,129.29 L94.90,130.01 L95.40,130.72 L95.90,131.42 L96.40,132.11 L96.90,132.78 L97.40,133.44 L97.90,134.07 L98.40,134.69 L98.90,135.30 L99.40,135.89 L99.90,136.48 L100.40,137.05 L100.90,137.61 L101.40,138.15 L101.90,138.67 L102.40,139.17 L102.90,139.66 L103.40,140.12 L103.90,140.56 L104.40,140.98 L104.90,141.38 L105.40,141.76 L105.90,142.13 L106.40,142.48 L106.90,142.82 L107.40,143.16 L107.90,143.48 L108.40,143.78 L108.90,144.08 L109.40,144.36 L109.90,144.62 L110.40,144.87 L110.90,145.09 L111.40,145.30 L111.90,145.49 L112.40,145.66 L112.90,145.81 L113.40,145.93 L113.90,146.04 L114.40,146.12 L114.90,146.19 L115.40,146.23 L115.90,146.25 L116.40,146.24 L116.90,146.22 L117.40,146.18 L117.90,146.13 L118.40,146.07 L118.90,145.99 L119.40,145.91 L119.90,145.81 L120.40,145.71 L120.90,145.60 L121.40,145.49 L121.90,145.36 L122.40,145.24 L122.90,145.11 L123.40,144.97 L123.90,144.83 L124.40,144.68 L124.90,144.53 L125.40,144.38 L125.90,144.23 L126.40,144.07 L126.90,143.88 L127.40,143.66 L127.90,143.40 L128.40,143.11 L128.90,142.79 L129.40,142.45 L129.90,142.11 L130.40,141.78 L130.90,141.49 L131.40,141.24 L131.90,141.04 L132.40,140.86 L132.90,140.71 L133.40,140.57 L133.90,140.44 L134.40,140.32 L134.90,140.20 L135.40,140.10 L135.90,140.00 L136.40,139.90 L136.90,139.81 L137.40,139.72 L137.90,139.64 L138.40,139.56 L138.90,139.48 L139.40,139.41 L139.90,139.35 L140.40,139.29 L140.90,139.25 L141.40,139.24 L141.90,139.28 L142.40,139.36 L142.90,139.48 L143.40,139.60 L143.90,139.75 L144.40,139.91 L144.90,140.10 L145.40,140.30 L145.90,140.52 L146.40,140.75 L146.90,141.00 L147.40,141.25 L147.90,141.51 L148.40,141.79 L148.90,142.07 L149.40,142.36 L149.90,142.65 L150.40,142.95 L150.90,143.26 L151.40,143.57 L151.90,143.88 L152.40,144.20 L152.90,144.52 L153.40,144.84 L153.90,145.17 L154.40,145.50 L154.90,145.83 L155.40,146.18 L155.90,146.52 L156.40,146.87 L156.90,147.23 L157.40,147.58 L157.90,147.94 L158.40,148.30 L158.90,148.65 L159.40,149.01 L159.90,149.36 L160.40,149.71 L160.90,150.06 L161.40,150.40 L161.90,150.75 L162.40,151.10 L162.90,151.44 L163.40,151.79 L163.90,152.14 L164.40,152.48 L164.90,152.83 L165.40,153.18 L165.90,153.52 L166.40,153.87 L166.90,154.22 L167.40,154.56 L167.90,154.91 L168.40,155.26 L168.90,155.61 L169.40,155.96 L169.90,156.30 L170.40,156.65 L170.90,157.00 L171.40,157.35 L171.90,157.70 L172.40,158.04 L172.90,158.39 L173.20,158.60" fill="none" stroke="#d99ad9" stroke-width="1.15" stroke-linejoin="round" stroke-linecap="round" />
<path d="M205.00,79.00 L205.50,81.70 L206.00,82.38 L206.50,80.91 L207.00,78.41 L207.50,75.61 L208.00,72.82 L208.50,70.24 L209.00,68.00 L209.50,66.04 L210.00,64.17 L210.50,62.38 L211.00,60.66 L211.50,59.00 L212.00,57.41 L212.50,55.90 L213.00,54.50 L213.50,53.26 L214.00,52.19 L214.50,51.29 L215.00,50.54 L215.50,49.89 L216.00,49.30 L216.50,48.78 L217.00,48.42 L217.50,48.25 L218.00,48.24 L218.50,48.35 L219.00,48.53 L219.50,48.82 L220.00,49.23 L220.50,49.79 L221.00,50.50 L221.50,51.34 L222.00,52.28 L222.50,53.30 L223.00,54.39 L223.50,55.54 L224.00,56.74 L224.50,58.00 L225.00,59.38 L225.50,60.90 L226.00,62.51 L226.50,64.12 L227.00,65.68 L227.50,67.14 L228.00,68.49 L228.50,69.74 L229.00,70.95 L229.50,72.13 L230.00,73.28 L230.50,74.42 L231.00,75.53 L231.50,76.63 L232.00,77.72 L232.50,78.79 L233.00,79.86 L233.50,80.92 L234.00,81.97 L234.50,83.02 L235.00,84.05 L235.50,85.06 L236.00,86.07 L236.50,87.06 L237.00,88.05 L237.50,89.03 L238.00,90.00 L238.50,90.97 L239.00,91.94 L239.50,92.91 L240.00,93.88 L240.50,94.85 L241.00,95.82 L241.50,96.80 L242.00,97.78 L242.50,98.77 L243.00,99.77 L243.50,100.77 L244.00,101.77 L244.50,102.77 L245.00,103.77 L245.50,104.76 L246.00,105.74 L246.50,106.71 L247.00,107.66 L247.50,108.59 L248.00,109.50 L248.50,110.37 L249.00,111.20 L249.50,112.00 L250.00,112.76 L250.50,113.47 L251.00,114.14 L251.50,114.77 L252.00,115.37 L252.50,115.94 L253.00,116.50 L253.50,117.05 L254.00,117.57 L254.50,118.06 L255.00,118.50 L255.50,118.90 L256.00,119.24 L256.50,119.54 L257.00,119.80 L257.50,120.04 L258.00,120.27 L258.50,120.49 L259.00,120.67 L259.50,120.81 L260.00,120.90 L260.50,120.94 L261.00,120.94 L261.50,120.89 L262.00,120.80 L262.50,120.67 L263.00,120.50 L263.50,120.30 L264.00,120.09 L264.50,119.85 L265.00,119.60 L265.50,119.35 L266.00,119.08 L266.50,118.81 L267.00,118.54 L267.50,118.27 L268.00,118.00 L268.50,117.74 L269.00,117.48 L269.50,117.24 L270.00,117.00 L270.50,116.77 L271.00,116.54 L271.50,116.30 L272.00,116.06 L272.50,115.82 L273.00,115.58 L273.50,115.35 L274.00,115.12 L274.50,114.89 L275.00,114.66 L275.50,114.44 L276.00,114.23 L276.50,114.03 L277.00,113.84 L277.50,113.66 L278.00,113.50 L278.50,113.35 L279.00,113.21 L279.50,113.07 L280.00,112.94 L280.50,112.83 L281.00,112.73 L281.50,112.64 L282.00,112.57 L282.50,112.52 L283.00,112.48 L283.50,112.46 L284.00,112.47 L284.50,112.49 L285.00,112.53 L285.50,112.59 L286.00,112.65 L286.50,112.74 L287.00,112.84 L287.50,112.96 L288.00,113.10 L288.50,113.27 L289.00,113.46 L289.50,113.68 L290.00,113.92 L290.50,114.20 L291.00,114.50 L291.50,114.83 L292.00,115.19 L292.50,115.57 L293.00,115.97 L293.50,116.40 L294.00,116.85 L294.50,117.31 L295.00,117.80 L295.50,118.30 L296.00,118.81 L296.50,119.34 L297.00,119.89 L297.50,120.44 L298.00,121.00 L298.50,121.58 L299.00,122.18 L299.50,122.80 L300.00,123.43 L300.50,124.07 L301.00,124.73 L301.50,125.39 L302.00,126.06 L302.50,126.74 L303.00,127.42 L303.50,128.10 L304.00,128.79 L304.50,129.47 L305.00,130.15 L305.50,130.83 L306.00,131.50 L306.50,132.17 L307.00,132.84 L307.50,133.52 L308.00,134.21 L308.50,134.89 L309.00,135.58 L309.50,136.27 L310.00,136.95 L310.50,137.64 L311.00,138.32 L311.50,139.00 L312.00,139.67 L312.50,140.34 L313.00,141.00 L313.50,141.65 L314.00,142.30 L314.50,142.94 L315.00,143.58 L315.50,144.22 L316.00,144.86 L316.50,145.49 L317.00,146.12 L317.50,146.75 L318.00,147.38 L318.50,148.01 L319.00,148.64 L319.50,149.26 L320.00,149.89 L320.40,150.40" fill="none" stroke="#e89c94" stroke-width="1.15" stroke-linejoin="round" stroke-linecap="round" />
<path d="M205.00,80.54 L205.50,83.33 L206.00,84.14 L206.50,82.83 L207.00,80.54 L207.50,77.94 L208.00,75.33 L208.50,72.91 L209.00,70.80 L209.50,68.93 L210.00,67.13 L210.50,65.40 L211.00,63.73 L211.50,62.11 L212.00,60.56 L212.50,59.09 L213.00,57.72 L213.50,56.50 L214.00,55.45 L214.50,54.56 L215.00,53.80 L215.50,53.15 L216.00,52.55 L216.50,52.02 L217.00,51.65 L217.50,51.46 L218.00,51.43 L218.50,51.52 L219.00,51.69 L219.50,51.96 L220.00,52.35 L220.50,52.88 L221.00,53.55 L221.50,54.34 L222.00,55.22 L222.50,56.18 L223.00,57.21 L223.50,58.30 L224.00,59.44 L224.50,60.62 L225.00,61.91 L225.50,63.32 L226.00,64.81 L226.50,66.31 L227.00,67.76 L227.50,69.13 L228.00,70.41 L228.50,71.62 L229.00,72.79 L229.50,73.95 L230.00,75.09 L230.50,76.23 L231.00,77.35 L231.50,78.46 L232.00,79.57 L232.50,80.67 L233.00,81.76 L233.50,82.85 L234.00,83.92 L234.50,84.98 L235.00,86.03 L235.50,87.07 L236.00,88.10 L236.50,89.13 L237.00,90.14 L237.50,91.15 L238.00,92.15 L238.50,93.14 L239.00,94.13 L239.50,95.12 L240.00,96.10 L240.50,97.09 L241.00,98.08 L241.50,99.07 L242.00,100.07 L242.50,101.07 L243.00,102.07 L243.50,103.06 L244.00,104.05 L244.50,105.02 L245.00,105.99 L245.50,106.95 L246.00,107.90 L246.50,108.83 L247.00,109.74 L247.50,110.64 L248.00,111.51 L248.50,112.34 L249.00,113.14 L249.50,113.91 L250.00,114.65 L250.50,115.34 L251.00,115.99 L251.50,116.61 L252.00,117.19 L252.50,117.75 L253.00,118.29 L253.50,118.81 L254.00,119.30 L254.50,119.75 L255.00,120.15 L255.50,120.51 L256.00,120.82 L256.50,121.09 L257.00,121.33 L257.50,121.54 L258.00,121.75 L258.50,121.94 L259.00,122.10 L259.50,122.22 L260.00,122.29 L260.50,122.32 L261.00,122.31 L261.50,122.25 L262.00,122.16 L262.50,122.02 L263.00,121.85 L263.50,121.65 L264.00,121.44 L264.50,121.20 L265.00,120.95 L265.50,120.69 L266.00,120.43 L266.50,120.16 L267.00,119.89 L267.50,119.62 L268.00,119.35 L268.50,119.08 L269.00,118.82 L269.50,118.57 L270.00,118.33 L270.50,118.09 L271.00,117.85 L271.50,117.61 L272.00,117.36 L272.50,117.11 L273.00,116.87 L273.50,116.62 L274.00,116.38 L274.50,116.14 L275.00,115.90 L275.50,115.67 L276.00,115.45 L276.50,115.24 L277.00,115.04 L277.50,114.86 L278.00,114.69 L278.50,114.54 L279.00,114.39 L279.50,114.25 L280.00,114.12 L280.50,114.01 L281.00,113.91 L281.50,113.82 L282.00,113.75 L282.50,113.70 L283.00,113.67 L283.50,113.65 L284.00,113.66 L284.50,113.68 L285.00,113.72 L285.50,113.78 L286.00,113.84 L286.50,113.93 L287.00,114.03 L287.50,114.15 L288.00,114.29 L288.50,114.46 L289.00,114.65 L289.50,114.87 L290.00,115.12 L290.50,115.39 L291.00,115.69 L291.50,116.02 L292.00,116.37 L292.50,116.75 L293.00,117.16 L293.50,117.58 L294.00,118.03 L294.50,118.49 L295.00,118.97 L295.50,119.47 L296.00,119.98 L296.50,120.50 L297.00,121.03 L297.50,121.57 L298.00,122.12 L298.50,122.68 L299.00,123.27 L299.50,123.87 L300.00,124.48 L300.50,125.10 L301.00,125.74 L301.50,126.38 L302.00,127.02 L302.50,127.68 L303.00,128.33 L303.50,128.99 L304.00,129.65 L304.50,130.31 L305.00,130.97 L305.50,131.62 L306.00,132.27 L306.50,132.92 L307.00,133.57 L307.50,134.22 L308.00,134.88 L308.50,135.54 L309.00,136.20 L309.50,136.86 L310.00,137.52 L310.50,138.18 L311.00,138.84 L311.50,139.49 L312.00,140.14 L312.50,140.78 L313.00,141.42 L313.50,142.05 L314.00,142.67 L314.50,143.29 L315.00,143.91 L315.50,144.52 L316.00,145.14 L316.50,145.75 L317.00,146.36 L317.50,146.96 L318.00,147.57 L318.50,148.18 L319.00,148.78 L319.50,149.39 L320.00,150.00 L320.40,150.48" fill="none" stroke="#de8278" stroke-width="1.15" stroke-linejoin="round" stroke-linecap="round" />
<path d="M205.00,81.86 L205.50,84.74 L206.00,85.65 L206.50,84.49 L207.00,82.36 L207.50,79.93 L208.00,77.49 L208.50,75.21 L209.00,73.20 L209.50,71.41 L210.00,69.67 L210.50,67.99 L211.00,66.36 L211.50,64.78 L212.00,63.27 L212.50,61.82 L213.00,60.48 L213.50,59.28 L214.00,58.24 L214.50,57.35 L215.00,56.59 L215.50,55.93 L216.00,55.33 L216.50,54.80 L217.00,54.41 L217.50,54.21 L218.00,54.17 L218.50,54.24 L219.00,54.40 L219.50,54.66 L220.00,55.03 L220.50,55.54 L221.00,56.17 L221.50,56.91 L222.00,57.74 L222.50,58.66 L223.00,59.63 L223.50,60.67 L224.00,61.75 L224.50,62.87 L225.00,64.08 L225.50,65.40 L226.00,66.79 L226.50,68.19 L227.00,69.55 L227.50,70.84 L228.00,72.06 L228.50,73.23 L229.00,74.37 L229.50,75.51 L230.00,76.64 L230.50,77.78 L231.00,78.91 L231.50,80.04 L232.00,81.16 L232.50,82.28 L233.00,83.39 L233.50,84.50 L234.00,85.59 L234.50,86.67 L235.00,87.74 L235.50,88.80 L236.00,89.85 L236.50,90.90 L237.00,91.93 L237.50,92.96 L238.00,93.98 L238.50,95.00 L239.00,96.01 L239.50,97.01 L240.00,98.01 L240.50,99.01 L241.00,100.02 L241.50,101.02 L242.00,102.03 L242.50,103.03 L243.00,104.03 L243.50,105.02 L244.00,105.99 L244.50,106.95 L245.00,107.90 L245.50,108.83 L246.00,109.74 L246.50,110.64 L247.00,111.53 L247.50,112.39 L248.00,113.22 L248.50,114.03 L249.00,114.81 L249.50,115.55 L250.00,116.26 L250.50,116.94 L251.00,117.58 L251.50,118.18 L252.00,118.75 L252.50,119.30 L253.00,119.83 L253.50,120.33 L254.00,120.79 L254.50,121.20 L255.00,121.56 L255.50,121.89 L256.00,122.17 L256.50,122.42 L257.00,122.63 L257.50,122.83 L258.00,123.02 L258.50,123.19 L259.00,123.33 L259.50,123.43 L260.00,123.49 L260.50,123.51 L261.00,123.48 L261.50,123.42 L262.00,123.32 L262.50,123.18 L263.00,123.01 L263.50,122.81 L264.00,122.59 L264.50,122.36 L265.00,122.11 L265.50,121.85 L266.00,121.59 L266.50,121.32 L267.00,121.04 L267.50,120.77 L268.00,120.50 L268.50,120.23 L269.00,119.97 L269.50,119.71 L270.00,119.47 L270.50,119.23 L271.00,118.98 L271.50,118.73 L272.00,118.48 L272.50,118.22 L273.00,117.96 L273.50,117.71 L274.00,117.46 L274.50,117.21 L275.00,116.96 L275.50,116.73 L276.00,116.50 L276.50,116.28 L277.00,116.07 L277.50,115.88 L278.00,115.71 L278.50,115.55 L279.00,115.40 L279.50,115.26 L280.00,115.13 L280.50,115.02 L281.00,114.92 L281.50,114.83 L282.00,114.77 L282.50,114.72 L283.00,114.68 L283.50,114.67 L284.00,114.68 L284.50,114.70 L285.00,114.74 L285.50,114.80 L286.00,114.87 L286.50,114.95 L287.00,115.05 L287.50,115.17 L288.00,115.32 L288.50,115.49 L289.00,115.68 L289.50,115.90 L290.00,116.14 L290.50,116.41 L291.00,116.71 L291.50,117.04 L292.00,117.39 L292.50,117.77 L293.00,118.17 L293.50,118.59 L294.00,119.04 L294.50,119.50 L295.00,119.98 L295.50,120.47 L296.00,120.97 L296.50,121.49 L297.00,122.01 L297.50,122.54 L298.00,123.08 L298.50,123.63 L299.00,124.20 L299.50,124.78 L300.00,125.38 L300.50,125.98 L301.00,126.60 L301.50,127.22 L302.00,127.85 L302.50,128.48 L303.00,129.12 L303.50,129.76 L304.00,130.40 L304.50,131.03 L305.00,131.67 L305.50,132.30 L306.00,132.93 L306.50,133.56 L307.00,134.19 L307.50,134.82 L308.00,135.46 L308.50,136.09 L309.00,136.73 L309.50,137.37 L310.00,138.01 L310.50,138.65 L311.00,139.29 L311.50,139.92 L312.00,140.54 L312.50,141.16 L313.00,141.78 L313.50,142.39 L314.00,142.99 L314.50,143.59 L315.00,144.19 L315.50,144.79 L316.00,145.38 L316.50,145.97 L317.00,146.56 L317.50,147.15 L318.00,147.74 L318.50,148.32 L319.00,148.91 L319.50,149.50 L320.00,150.08 L320.40,150.56" fill="none" stroke="#d26a60" stroke-width="1.15" stroke-linejoin="round" stroke-linecap="round" />
<path d="M205.00,83.40 L205.50,86.37 L206.00,87.41 L206.50,86.41 L207.00,84.49 L207.50,82.27 L208.00,80.01 L208.50,77.88 L209.00,76.00 L209.50,74.30 L210.00,72.63 L210.50,71.01 L211.00,69.43 L211.50,67.90 L212.00,66.42 L212.50,65.01 L213.00,63.70 L213.50,62.53 L214.00,61.51 L214.50,60.62 L215.00,59.86 L215.50,59.19 L216.00,58.58 L216.50,58.04 L217.00,57.64 L217.50,57.42 L218.00,57.36 L218.50,57.41 L219.00,57.55 L219.50,57.80 L220.00,58.16 L220.50,58.63 L221.00,59.22 L221.50,59.91 L222.00,60.69 L222.50,61.54 L223.00,62.46 L223.50,63.43 L224.00,64.45 L224.50,65.49 L225.00,66.61 L225.50,67.83 L226.00,69.10 L226.50,70.37 L227.00,71.63 L227.50,72.83 L228.00,73.99 L228.50,75.10 L229.00,76.21 L229.50,77.33 L230.00,78.45 L230.50,79.59 L231.00,80.73 L231.50,81.87 L232.00,83.02 L232.50,84.16 L233.00,85.30 L233.50,86.42 L234.00,87.54 L234.50,88.64 L235.00,89.73 L235.50,90.81 L236.00,91.89 L236.50,92.96 L237.00,94.02 L237.50,95.08 L238.00,96.13 L238.50,97.17 L239.00,98.20 L239.50,99.22 L240.00,100.23 L240.50,101.25 L241.00,102.28 L241.50,103.30 L242.00,104.32 L242.50,105.33 L243.00,106.32 L243.50,107.30 L244.00,108.26 L244.50,109.21 L245.00,110.12 L245.50,111.02 L246.00,111.90 L246.50,112.76 L247.00,113.61 L247.50,114.43 L248.00,115.23 L248.50,116.00 L249.00,116.75 L249.50,117.47 L250.00,118.15 L250.50,118.81 L251.00,119.43 L251.50,120.02 L252.00,120.58 L252.50,121.11 L253.00,121.62 L253.50,122.09 L254.00,122.52 L254.50,122.89 L255.00,123.21 L255.50,123.50 L256.00,123.75 L256.50,123.97 L257.00,124.16 L257.50,124.33 L258.00,124.50 L258.50,124.64 L259.00,124.76 L259.50,124.84 L260.00,124.88 L260.50,124.89 L261.00,124.85 L261.50,124.78 L262.00,124.68 L262.50,124.54 L263.00,124.36 L263.50,124.16 L264.00,123.94 L264.50,123.71 L265.00,123.46 L265.50,123.20 L266.00,122.93 L266.50,122.66 L267.00,122.39 L267.50,122.12 L268.00,121.84 L268.50,121.57 L269.00,121.31 L269.50,121.05 L270.00,120.80 L270.50,120.55 L271.00,120.30 L271.50,120.04 L272.00,119.78 L272.50,119.51 L273.00,119.24 L273.50,118.98 L274.00,118.72 L274.50,118.46 L275.00,118.20 L275.50,117.96 L276.00,117.72 L276.50,117.49 L277.00,117.28 L277.50,117.08 L278.00,116.90 L278.50,116.74 L279.00,116.58 L279.50,116.44 L280.00,116.31 L280.50,116.20 L281.00,116.10 L281.50,116.02 L282.00,115.95 L282.50,115.90 L283.00,115.87 L283.50,115.86 L284.00,115.87 L284.50,115.89 L285.00,115.93 L285.50,115.99 L286.00,116.06 L286.50,116.14 L287.00,116.24 L287.50,116.37 L288.00,116.51 L288.50,116.68 L289.00,116.87 L289.50,117.09 L290.00,117.33 L290.50,117.60 L291.00,117.90 L291.50,118.22 L292.00,118.58 L292.50,118.95 L293.00,119.35 L293.50,119.78 L294.00,120.22 L294.50,120.67 L295.00,121.15 L295.50,121.63 L296.00,122.13 L296.50,122.64 L297.00,123.15 L297.50,123.68 L298.00,124.20 L298.50,124.74 L299.00,125.29 L299.50,125.85 L300.00,126.43 L300.50,127.01 L301.00,127.61 L301.50,128.21 L302.00,128.81 L302.50,129.42 L303.00,130.03 L303.50,130.65 L304.00,131.26 L304.50,131.88 L305.00,132.49 L305.50,133.10 L306.00,133.70 L306.50,134.30 L307.00,134.91 L307.50,135.52 L308.00,136.13 L308.50,136.74 L309.00,137.36 L309.50,137.97 L310.00,138.58 L310.50,139.20 L311.00,139.80 L311.50,140.41 L312.00,141.01 L312.50,141.61 L313.00,142.20 L313.50,142.79 L314.00,143.37 L314.50,143.94 L315.00,144.52 L315.50,145.09 L316.00,145.66 L316.50,146.23 L317.00,146.80 L317.50,147.36 L318.00,147.93 L318.50,148.49 L319.00,149.06 L319.50,149.62 L320.00,150.19 L320.40,150.64" fill="none" stroke="#c6564c" stroke-width="1.15" stroke-linejoin="round" stroke-linecap="round" />
<path d="M205.00,85.16 L205.50,88.24 L206.00,89.42 L206.50,88.61 L207.00,86.92 L207.50,84.93 L208.00,82.89 L208.50,80.94 L209.00,79.20 L209.50,77.60 L210.00,76.02 L210.50,74.46 L211.00,72.94 L211.50,71.46 L212.00,70.02 L212.50,68.65 L213.00,67.38 L213.50,66.24 L214.00,65.23 L214.50,64.35 L215.00,63.58 L215.50,62.91 L216.00,62.29 L216.50,61.74 L217.00,61.33 L217.50,61.09 L218.00,61.00 L218.50,61.04 L219.00,61.16 L219.50,61.39 L220.00,61.73 L220.50,62.17 L221.00,62.71 L221.50,63.34 L222.00,64.05 L222.50,64.84 L223.00,65.69 L223.50,66.59 L224.00,67.53 L224.50,68.49 L225.00,69.51 L225.50,70.60 L226.00,71.73 L226.50,72.88 L227.00,74.01 L227.50,75.11 L228.00,76.19 L228.50,77.25 L229.00,78.32 L229.50,79.41 L230.00,80.52 L230.50,81.66 L231.00,82.81 L231.50,83.97 L232.00,85.14 L232.50,86.31 L233.00,87.47 L233.50,88.63 L234.00,89.77 L234.50,90.89 L235.00,92.00 L235.50,93.11 L236.00,94.22 L236.50,95.32 L237.00,96.41 L237.50,97.50 L238.00,98.58 L238.50,99.65 L239.00,100.70 L239.50,101.74 L240.00,102.78 L240.50,103.82 L241.00,104.86 L241.50,105.90 L242.00,106.93 L242.50,107.95 L243.00,108.94 L243.50,109.92 L244.00,110.86 L244.50,111.78 L245.00,112.67 L245.50,113.53 L246.00,114.37 L246.50,115.18 L247.00,115.98 L247.50,116.76 L248.00,117.52 L248.50,118.26 L249.00,118.97 L249.50,119.65 L250.00,120.31 L250.50,120.94 L251.00,121.55 L251.50,122.12 L252.00,122.66 L252.50,123.18 L253.00,123.67 L253.50,124.11 L254.00,124.50 L254.50,124.83 L255.00,125.10 L255.50,125.33 L256.00,125.55 L256.50,125.74 L257.00,125.90 L257.50,126.05 L258.00,126.19 L258.50,126.30 L259.00,126.39 L259.50,126.45 L260.00,126.48 L260.50,126.47 L261.00,126.42 L261.50,126.34 L262.00,126.23 L262.50,126.09 L263.00,125.91 L263.50,125.71 L264.00,125.49 L264.50,125.25 L265.00,125.00 L265.50,124.74 L266.00,124.48 L266.50,124.20 L267.00,123.93 L267.50,123.65 L268.00,123.38 L268.50,123.11 L269.00,122.84 L269.50,122.57 L270.00,122.32 L270.50,122.07 L271.00,121.80 L271.50,121.53 L272.00,121.26 L272.50,120.99 L273.00,120.71 L273.50,120.43 L274.00,120.16 L274.50,119.88 L275.00,119.62 L275.50,119.36 L276.00,119.11 L276.50,118.87 L277.00,118.65 L277.50,118.45 L278.00,118.26 L278.50,118.09 L279.00,117.94 L279.50,117.79 L280.00,117.66 L280.50,117.55 L281.00,117.45 L281.50,117.37 L282.00,117.30 L282.50,117.26 L283.00,117.23 L283.50,117.22 L284.00,117.23 L284.50,117.25 L285.00,117.29 L285.50,117.35 L286.00,117.42 L286.50,117.50 L287.00,117.61 L287.50,117.73 L288.00,117.88 L288.50,118.05 L289.00,118.24 L289.50,118.46 L290.00,118.70 L290.50,118.97 L291.00,119.26 L291.50,119.58 L292.00,119.93 L292.50,120.31 L293.00,120.71 L293.50,121.13 L294.00,121.56 L294.50,122.02 L295.00,122.49 L295.50,122.97 L296.00,123.46 L296.50,123.96 L297.00,124.46 L297.50,124.97 L298.00,125.48 L298.50,126.00 L299.00,126.53 L299.50,127.08 L300.00,127.63 L300.50,128.19 L301.00,128.76 L301.50,129.33 L302.00,129.91 L302.50,130.50 L303.00,131.08 L303.50,131.67 L304.00,132.25 L304.50,132.84 L305.00,133.42 L305.50,134.00 L306.00,134.58 L306.50,135.16 L307.00,135.73 L307.50,136.31 L308.00,136.90 L308.50,137.48 L309.00,138.07 L309.50,138.65 L310.00,139.24 L310.50,139.82 L311.00,140.40 L311.50,140.97 L312.00,141.55 L312.50,142.12 L313.00,142.68 L313.50,143.24 L314.00,143.79 L314.50,144.34 L315.00,144.89 L315.50,145.44 L316.00,145.98 L316.50,146.52 L317.00,147.07 L317.50,147.61 L318.00,148.15 L318.50,148.68 L319.00,149.22 L319.50,149.76 L320.00,150.30 L320.40,150.74" fill="none" stroke="#b84840" stroke-width="1.15" stroke-linejoin="round" stroke-linecap="round" />
<path d="M205.00,86.92 L205.50,90.10 L206.00,91.43 L206.50,90.81 L207.00,89.35 L207.50,87.59 L208.00,85.76 L208.50,84.00 L209.00,82.40 L209.50,80.90 L210.00,79.40 L210.50,77.92 L211.00,76.45 L211.50,75.02 L212.00,73.62 L212.50,72.30 L213.00,71.06 L213.50,69.95 L214.00,68.96 L214.50,68.08 L215.00,67.31 L215.50,66.63 L216.00,66.00 L216.50,65.45 L217.00,65.02 L217.50,64.76 L218.00,64.65 L218.50,64.66 L219.00,64.77 L219.50,64.99 L220.00,65.30 L220.50,65.70 L221.00,66.20 L221.50,66.77 L222.00,67.41 L222.50,68.13 L223.00,68.91 L223.50,69.74 L224.00,70.61 L224.50,71.49 L225.00,72.41 L225.50,73.37 L226.00,74.36 L226.50,75.38 L227.00,76.39 L227.50,77.39 L228.00,78.39 L228.50,79.39 L229.00,80.42 L229.50,81.49 L230.00,82.59 L230.50,83.73 L231.00,84.89 L231.50,86.07 L232.00,87.26 L232.50,88.46 L233.00,89.65 L233.50,90.83 L234.00,91.99 L234.50,93.13 L235.00,94.27 L235.50,95.41 L236.00,96.55 L236.50,97.68 L237.00,98.80 L237.50,99.92 L238.00,101.03 L238.50,102.12 L239.00,103.20 L239.50,104.27 L240.00,105.32 L240.50,106.38 L241.00,107.44 L241.50,108.50 L242.00,109.54 L242.50,110.57 L243.00,111.56 L243.50,112.53 L244.00,113.46 L244.50,114.35 L245.00,115.21 L245.50,116.03 L246.00,116.83 L246.50,117.61 L247.00,118.36 L247.50,119.10 L248.00,119.82 L248.50,120.51 L249.00,121.19 L249.50,121.84 L250.00,122.47 L250.50,123.08 L251.00,123.66 L251.50,124.22 L252.00,124.75 L252.50,125.25 L253.00,125.71 L253.50,126.13 L254.00,126.48 L254.50,126.76 L255.00,126.98 L255.50,127.17 L256.00,127.35 L256.50,127.51 L257.00,127.65 L257.50,127.77 L258.00,127.88 L258.50,127.97 L259.00,128.03 L259.50,128.07 L260.00,128.07 L260.50,128.05 L261.00,127.99 L261.50,127.90 L262.00,127.78 L262.50,127.63 L263.00,127.45 L263.50,127.25 L264.00,127.03 L264.50,126.79 L265.00,126.54 L265.50,126.28 L266.00,126.02 L266.50,125.74 L267.00,125.47 L267.50,125.19 L268.00,124.92 L268.50,124.64 L269.00,124.37 L269.50,124.10 L270.00,123.84 L270.50,123.58 L271.00,123.31 L271.50,123.03 L272.00,122.75 L272.50,122.46 L273.00,122.17 L273.50,121.88 L274.00,121.60 L274.50,121.31 L275.00,121.04 L275.50,120.77 L276.00,120.51 L276.50,120.26 L277.00,120.03 L277.50,119.81 L278.00,119.62 L278.50,119.45 L279.00,119.29 L279.50,119.14 L280.00,119.01 L280.50,118.90 L281.00,118.80 L281.50,118.72 L282.00,118.65 L282.50,118.61 L283.00,118.58 L283.50,118.58 L284.00,118.59 L284.50,118.61 L285.00,118.66 L285.50,118.71 L286.00,118.78 L286.50,118.87 L287.00,118.97 L287.50,119.10 L288.00,119.24 L288.50,119.41 L289.00,119.60 L289.50,119.82 L290.00,120.06 L290.50,120.33 L291.00,120.62 L291.50,120.94 L292.00,121.29 L292.50,121.66 L293.00,122.06 L293.50,122.48 L294.00,122.91 L294.50,123.36 L295.00,123.83 L295.50,124.30 L296.00,124.79 L296.50,125.28 L297.00,125.77 L297.50,126.26 L298.00,126.76 L298.50,127.26 L299.00,127.77 L299.50,128.30 L300.00,128.83 L300.50,129.37 L301.00,129.91 L301.50,130.46 L302.00,131.01 L302.50,131.57 L303.00,132.13 L303.50,132.68 L304.00,133.24 L304.50,133.80 L305.00,134.36 L305.50,134.91 L306.00,135.46 L306.50,136.01 L307.00,136.56 L307.50,137.11 L308.00,137.67 L308.50,138.22 L309.00,138.78 L309.50,139.33 L310.00,139.89 L310.50,140.44 L311.00,140.99 L311.50,141.54 L312.00,142.08 L312.50,142.62 L313.00,143.16 L313.50,143.69 L314.00,144.22 L314.50,144.74 L315.00,145.26 L315.50,145.78 L316.00,146.30 L316.50,146.82 L317.00,147.34 L317.50,147.85 L318.00,148.36 L318.50,148.88 L319.00,149.39 L319.50,149.90 L320.00,150.42 L320.40,150.83" fill="none" stroke="#9c3a34" stroke-width="1.15" stroke-linejoin="round" stroke-linecap="round" />
<path d="M205.00,88.90 L205.50,92.21 L206.00,93.69 L206.50,93.29 L207.00,92.09 L207.50,90.59 L208.00,89.00 L208.50,87.44 L209.00,86.00 L209.50,84.62 L210.00,83.21 L210.50,81.80 L211.00,80.40 L211.50,79.02 L212.00,77.68 L212.50,76.39 L213.00,75.20 L213.50,74.12 L214.00,73.15 L214.50,72.28 L215.00,71.50 L215.50,70.81 L216.00,70.18 L216.50,69.61 L217.00,69.17 L217.50,68.88 L218.00,68.75 L218.50,68.74 L219.00,68.83 L219.50,69.03 L220.00,69.31 L220.50,69.68 L221.00,70.12 L221.50,70.62 L222.00,71.20 L222.50,71.84 L223.00,72.55 L223.50,73.30 L224.00,74.07 L224.50,74.86 L225.00,75.66 L225.50,76.49 L226.00,77.33 L226.50,78.19 L227.00,79.06 L227.50,79.95 L228.00,80.86 L228.50,81.81 L229.00,82.79 L229.50,83.82 L230.00,84.92 L230.50,86.05 L231.00,87.23 L231.50,88.43 L232.00,89.65 L232.50,90.87 L233.00,92.09 L233.50,93.31 L234.00,94.50 L234.50,95.66 L235.00,96.83 L235.50,98.00 L236.00,99.17 L236.50,100.33 L237.00,101.49 L237.50,102.65 L238.00,103.79 L238.50,104.91 L239.00,106.02 L239.50,107.11 L240.00,108.18 L240.50,109.26 L241.00,110.35 L241.50,111.43 L242.00,112.48 L242.50,113.51 L243.00,114.51 L243.50,115.47 L244.00,116.38 L244.50,117.24 L245.00,118.07 L245.50,118.85 L246.00,119.60 L246.50,120.33 L247.00,121.04 L247.50,121.73 L248.00,122.40 L248.50,123.05 L249.00,123.68 L249.50,124.30 L250.00,124.90 L250.50,125.48 L251.00,126.04 L251.50,126.58 L252.00,127.09 L252.50,127.58 L253.00,128.02 L253.50,128.40 L254.00,128.71 L254.50,128.93 L255.00,129.10 L255.50,129.24 L256.00,129.37 L256.50,129.50 L257.00,129.61 L257.50,129.70 L258.00,129.78 L258.50,129.84 L259.00,129.87 L259.50,129.88 L260.00,129.87 L260.50,129.82 L261.00,129.75 L261.50,129.65 L262.00,129.53 L262.50,129.37 L263.00,129.19 L263.50,128.99 L264.00,128.76 L264.50,128.53 L265.00,128.28 L265.50,128.02 L266.00,127.75 L266.50,127.48 L267.00,127.20 L267.50,126.92 L268.00,126.64 L268.50,126.36 L269.00,126.09 L269.50,125.82 L270.00,125.55 L270.50,125.28 L271.00,125.00 L271.50,124.71 L272.00,124.42 L272.50,124.12 L273.00,123.82 L273.50,123.52 L274.00,123.22 L274.50,122.92 L275.00,122.63 L275.50,122.35 L276.00,122.07 L276.50,121.81 L277.00,121.57 L277.50,121.35 L278.00,121.15 L278.50,120.97 L279.00,120.81 L279.50,120.66 L280.00,120.53 L280.50,120.41 L281.00,120.32 L281.50,120.24 L282.00,120.18 L282.50,120.13 L283.00,120.11 L283.50,120.10 L284.00,120.12 L284.50,120.14 L285.00,120.19 L285.50,120.24 L286.00,120.31 L286.50,120.40 L287.00,120.51 L287.50,120.63 L288.00,120.78 L288.50,120.95 L289.00,121.14 L289.50,121.36 L290.00,121.60 L290.50,121.86 L291.00,122.15 L291.50,122.47 L292.00,122.81 L292.50,123.18 L293.00,123.58 L293.50,123.99 L294.00,124.43 L294.50,124.88 L295.00,125.33 L295.50,125.80 L296.00,126.28 L296.50,126.76 L297.00,127.24 L297.50,127.72 L298.00,128.20 L298.50,128.68 L299.00,129.17 L299.50,129.67 L300.00,130.18 L300.50,130.69 L301.00,131.21 L301.50,131.73 L302.00,132.25 L302.50,132.78 L303.00,133.30 L303.50,133.83 L304.00,134.36 L304.50,134.88 L305.00,135.41 L305.50,135.93 L306.00,136.45 L306.50,136.97 L307.00,137.49 L307.50,138.01 L308.00,138.53 L308.50,139.05 L309.00,139.58 L309.50,140.10 L310.00,140.62 L310.50,141.14 L311.00,141.66 L311.50,142.17 L312.00,142.69 L312.50,143.19 L313.00,143.70 L313.50,144.20 L314.00,144.70 L314.50,145.19 L315.00,145.68 L315.50,146.18 L316.00,146.66 L316.50,147.15 L317.00,147.64 L317.50,148.13 L318.00,148.61 L318.50,149.10 L319.00,149.58 L319.50,150.06 L320.00,150.55 L320.40,150.94" fill="none" stroke="#682824" stroke-width="1.15" stroke-linejoin="round" stroke-linecap="round" />
<path d="M205.00,90.00 L205.50,93.37 L206.00,94.95 L206.50,94.67 L207.00,93.61 L207.50,92.25 L208.00,90.80 L208.50,89.35 L209.00,88.00 L209.50,86.68 L210.00,85.33 L210.50,83.96 L211.00,82.59 L211.50,81.24 L212.00,79.93 L212.50,78.67 L213.00,77.50 L213.50,76.44 L214.00,75.48 L214.50,74.61 L215.00,73.83 L215.50,73.14 L216.00,72.50 L216.50,71.93 L217.00,71.48 L217.50,71.18 L218.00,71.03 L218.50,71.00 L219.00,71.09 L219.50,71.27 L220.00,71.55 L220.50,71.89 L221.00,72.30 L221.50,72.77 L222.00,73.30 L222.50,73.90 L223.00,74.56 L223.50,75.27 L224.00,76.00 L224.50,76.74 L225.00,77.47 L225.50,78.22 L226.00,78.97 L226.50,79.75 L227.00,80.55 L227.50,81.38 L228.00,82.24 L228.50,83.15 L229.00,84.10 L229.50,85.12 L230.00,86.21 L230.50,87.35 L231.00,88.53 L231.50,89.74 L232.00,90.97 L232.50,92.21 L233.00,93.45 L233.50,94.68 L234.00,95.89 L234.50,97.07 L235.00,98.25 L235.50,99.43 L236.00,100.62 L236.50,101.81 L237.00,102.99 L237.50,104.16 L238.00,105.32 L238.50,106.46 L239.00,107.58 L239.50,108.68 L240.00,109.77 L240.50,110.87 L241.00,111.96 L241.50,113.05 L242.00,114.12 L242.50,115.15 L243.00,116.15 L243.50,117.10 L244.00,118.00 L244.50,118.85 L245.00,119.66 L245.50,120.42 L246.00,121.14 L246.50,121.84 L247.00,122.52 L247.50,123.19 L248.00,123.83 L248.50,124.46 L249.00,125.07 L249.50,125.67 L250.00,126.25 L250.50,126.81 L251.00,127.36 L251.50,127.89 L252.00,128.40 L252.50,128.87 L253.00,129.30 L253.50,129.66 L254.00,129.94 L254.50,130.14 L255.00,130.28 L255.50,130.39 L256.00,130.50 L256.50,130.60 L257.00,130.70 L257.50,130.77 L258.00,130.83 L258.50,130.87 L259.00,130.89 L259.50,130.89 L260.00,130.86 L260.50,130.81 L261.00,130.73 L261.50,130.63 L262.00,130.50 L262.50,130.34 L263.00,130.16 L263.50,129.95 L264.00,129.73 L264.50,129.49 L265.00,129.24 L265.50,128.98 L266.00,128.71 L266.50,128.44 L267.00,128.16 L267.50,127.88 L268.00,127.60 L268.50,127.32 L269.00,127.04 L269.50,126.77 L270.00,126.50 L270.50,126.23 L271.00,125.94 L271.50,125.65 L272.00,125.35 L272.50,125.04 L273.00,124.73 L273.50,124.42 L274.00,124.12 L274.50,123.81 L275.00,123.51 L275.50,123.22 L276.00,122.94 L276.50,122.68 L277.00,122.43 L277.50,122.20 L278.00,122.00 L278.50,121.82 L279.00,121.65 L279.50,121.50 L280.00,121.37 L280.50,121.26 L281.00,121.16 L281.50,121.08 L282.00,121.02 L282.50,120.98 L283.00,120.96 L283.50,120.95 L284.00,120.96 L284.50,120.99 L285.00,121.04 L285.50,121.09 L286.00,121.16 L286.50,121.25 L287.00,121.36 L287.50,121.48 L288.00,121.63 L288.50,121.80 L289.00,121.99 L289.50,122.21 L290.00,122.45 L290.50,122.71 L291.00,123.00 L291.50,123.32 L292.00,123.66 L292.50,124.03 L293.00,124.42 L293.50,124.84 L294.00,125.27 L294.50,125.72 L295.00,126.17 L295.50,126.64 L296.00,127.11 L296.50,127.58 L297.00,128.06 L297.50,128.53 L298.00,129.00 L298.50,129.47 L299.00,129.95 L299.50,130.44 L300.00,130.93 L300.50,131.43 L301.00,131.93 L301.50,132.43 L302.00,132.94 L302.50,133.45 L303.00,133.96 L303.50,134.47 L304.00,134.98 L304.50,135.48 L305.00,135.99 L305.50,136.50 L306.00,137.00 L306.50,137.50 L307.00,138.00 L307.50,138.51 L308.00,139.01 L308.50,139.52 L309.00,140.02 L309.50,140.52 L310.00,141.03 L310.50,141.53 L311.00,142.03 L311.50,142.53 L312.00,143.02 L312.50,143.51 L313.00,144.00 L313.50,144.48 L314.00,144.96 L314.50,145.44 L315.00,145.92 L315.50,146.39 L316.00,146.87 L316.50,147.34 L317.00,147.81 L317.50,148.28 L318.00,148.75 L318.50,149.22 L319.00,149.69 L319.50,150.15 L320.00,150.62 L320.40,151.00" fill="none" stroke="#221a1a" stroke-width="1.15" stroke-linejoin="round" stroke-linecap="round" />
<path d="M389.00,103.00 L389.50,105.13 L390.00,106.16 L390.50,105.60 L391.00,104.10 L391.50,102.27 L392.00,100.37 L392.50,98.57 L393.00,97.00 L393.50,95.62 L394.00,94.31 L394.50,93.04 L395.00,91.82 L395.50,90.65 L396.00,89.54 L396.50,88.50 L397.00,87.55 L397.50,86.68 L398.00,85.90 L398.50,85.20 L399.00,84.57 L399.50,84.00 L400.00,83.49 L400.50,83.08 L401.00,82.76 L401.50,82.54 L402.00,82.42 L402.50,82.37 L403.00,82.39 L403.50,82.50 L404.00,82.67 L404.50,82.91 L405.00,83.20 L405.50,83.54 L406.00,83.93 L406.50,84.36 L407.00,84.84 L407.50,85.36 L408.00,85.91 L408.50,86.50 L409.00,87.12 L409.50,87.78 L410.00,88.46 L410.50,89.15 L411.00,89.87 L411.50,90.60 L412.00,91.34 L412.50,92.09 L413.00,92.85 L413.50,93.62 L414.00,94.40 L414.50,95.19 L415.00,96.00 L415.50,96.81 L416.00,97.64 L416.50,98.47 L417.00,99.31 L417.50,100.15 L418.00,101.00 L418.50,101.86 L419.00,102.73 L419.50,103.60 L420.00,104.49 L420.50,105.38 L421.00,106.27 L421.50,107.17 L422.00,108.06 L422.50,108.94 L423.00,109.82 L423.50,110.70 L424.00,111.59 L424.50,112.48 L425.00,113.38 L425.50,114.27 L426.00,115.15 L426.50,116.01 L427.00,116.87 L427.50,117.69 L428.00,118.50 L428.50,119.28 L429.00,120.04 L429.50,120.78 L430.00,121.51 L430.50,122.22 L431.00,122.93 L431.50,123.63 L432.00,124.33 L432.50,125.02 L433.00,125.72 L433.50,126.43 L434.00,127.15 L434.50,127.90 L435.00,128.64 L435.50,129.38 L436.00,130.09 L436.50,130.77 L437.00,131.40 L437.50,131.98 L438.00,132.50 L438.50,132.98 L439.00,133.45 L439.50,133.88 L440.00,134.29 L440.50,134.68 L441.00,135.04 L441.50,135.37 L442.00,135.67 L442.50,135.94 L443.00,136.18 L443.50,136.39 L444.00,136.57 L444.50,136.72 L445.00,136.85 L445.50,136.95 L446.00,137.03 L446.50,137.10 L447.00,137.14 L447.50,137.17 L448.00,137.19 L448.50,137.18 L449.00,137.17 L449.50,137.13 L450.00,137.09 L450.50,137.03 L451.00,136.95 L451.50,136.84 L452.00,136.71 L452.50,136.56 L453.00,136.38 L453.50,136.20 L454.00,136.00 L454.50,135.79 L455.00,135.58 L455.50,135.36 L456.00,135.15 L456.50,134.93 L457.00,134.73 L457.50,134.54 L458.00,134.36 L458.50,134.17 L459.00,133.97 L459.50,133.78 L460.00,133.58 L460.50,133.40 L461.00,133.25 L461.50,133.11 L462.00,133.00 L462.50,132.91 L463.00,132.83 L463.50,132.76 L464.00,132.70 L464.50,132.66 L465.00,132.62 L465.50,132.60 L466.00,132.58 L466.50,132.58 L467.00,132.59 L467.50,132.62 L468.00,132.66 L468.50,132.71 L469.00,132.78 L469.50,132.87 L470.00,132.96 L470.50,133.08 L471.00,133.21 L471.50,133.35 L472.00,133.50 L472.50,133.66 L473.00,133.81 L473.50,133.97 L474.00,134.15 L474.50,134.36 L475.00,134.59 L475.50,134.85 L476.00,135.13 L476.50,135.44 L477.00,135.77 L477.50,136.12 L478.00,136.48 L478.50,136.86 L479.00,137.25 L479.50,137.65 L480.00,138.05 L480.50,138.46 L481.00,138.87 L481.50,139.29 L482.00,139.70 L482.50,140.11 L483.00,140.52 L483.50,140.93 L484.00,141.34 L484.50,141.74 L485.00,142.14 L485.50,142.54 L486.00,142.93 L486.50,143.32 L487.00,143.70 L487.50,144.09 L488.00,144.48 L488.50,144.86 L489.00,145.25 L489.50,145.63 L490.00,146.02 L490.50,146.40 L491.00,146.79 L491.50,147.17 L492.00,147.56 L492.50,147.95 L493.00,148.34 L493.50,148.73 L494.00,149.13 L494.50,149.53 L495.00,149.93 L495.50,150.33 L496.00,150.74 L496.50,151.15 L497.00,151.56 L497.50,151.98 L498.00,152.41 L498.50,152.83 L499.00,153.26 L499.50,153.69 L500.00,154.12 L500.50,154.56 L501.00,154.99 L501.50,155.43 L502.00,155.87 L502.50,156.31 L503.00,156.75 L503.50,157.19 L504.00,157.63 L504.50,158.07 L505.00,158.51 L505.50,158.95 L505.90,159.30" fill="none" stroke="#e89890" stroke-width="1.15" stroke-linejoin="round" stroke-linecap="round" />
<path d="M389.00,104.21 L389.50,106.31 L390.00,107.34 L390.50,106.85 L391.00,105.45 L391.50,103.73 L392.00,101.95 L392.50,100.25 L393.00,98.76 L393.50,97.44 L394.00,96.16 L394.50,94.92 L395.00,93.73 L395.50,92.59 L396.00,91.50 L396.50,90.48 L397.00,89.55 L397.50,88.70 L398.00,87.93 L398.50,87.24 L399.00,86.63 L399.50,86.07 L400.00,85.58 L400.50,85.18 L401.00,84.88 L401.50,84.68 L402.00,84.56 L402.50,84.51 L403.00,84.54 L403.50,84.64 L404.00,84.80 L404.50,85.04 L405.00,85.32 L405.50,85.66 L406.00,86.04 L406.50,86.47 L407.00,86.93 L407.50,87.44 L408.00,87.99 L408.50,88.57 L409.00,89.18 L409.50,89.82 L410.00,90.48 L410.50,91.17 L411.00,91.87 L411.50,92.58 L412.00,93.31 L412.50,94.04 L413.00,94.79 L413.50,95.54 L414.00,96.31 L414.50,97.10 L415.00,97.89 L415.50,98.70 L416.00,99.51 L416.50,100.33 L417.00,101.16 L417.50,101.99 L418.00,102.83 L418.50,103.67 L419.00,104.52 L419.50,105.38 L420.00,106.25 L420.50,107.12 L421.00,108.00 L421.50,108.87 L422.00,109.75 L422.50,110.61 L423.00,111.48 L423.50,112.34 L424.00,113.21 L424.50,114.09 L425.00,114.96 L425.50,115.84 L426.00,116.70 L426.50,117.55 L427.00,118.38 L427.50,119.20 L428.00,119.98 L428.50,120.75 L429.00,121.49 L429.50,122.21 L430.00,122.92 L430.50,123.62 L431.00,124.31 L431.50,124.99 L432.00,125.67 L432.50,126.35 L433.00,127.03 L433.50,127.71 L434.00,128.42 L434.50,129.13 L435.00,129.85 L435.50,130.56 L436.00,131.25 L436.50,131.90 L437.00,132.51 L437.50,133.07 L438.00,133.58 L438.50,134.05 L439.00,134.50 L439.50,134.93 L440.00,135.33 L440.50,135.71 L441.00,136.06 L441.50,136.38 L442.00,136.68 L442.50,136.95 L443.00,137.18 L443.50,137.39 L444.00,137.57 L444.50,137.72 L445.00,137.84 L445.50,137.94 L446.00,138.02 L446.50,138.08 L447.00,138.13 L447.50,138.15 L448.00,138.17 L448.50,138.16 L449.00,138.15 L449.50,138.12 L450.00,138.07 L450.50,138.02 L451.00,137.94 L451.50,137.84 L452.00,137.71 L452.50,137.57 L453.00,137.41 L453.50,137.23 L454.00,137.04 L454.50,136.84 L455.00,136.64 L455.50,136.43 L456.00,136.23 L456.50,136.02 L457.00,135.83 L457.50,135.65 L458.00,135.47 L458.50,135.29 L459.00,135.11 L459.50,134.92 L460.00,134.74 L460.50,134.57 L461.00,134.42 L461.50,134.29 L462.00,134.19 L462.50,134.10 L463.00,134.03 L463.50,133.96 L464.00,133.91 L464.50,133.86 L465.00,133.83 L465.50,133.80 L466.00,133.79 L466.50,133.79 L467.00,133.80 L467.50,133.83 L468.00,133.87 L468.50,133.92 L469.00,133.98 L469.50,134.07 L470.00,134.16 L470.50,134.27 L471.00,134.39 L471.50,134.53 L472.00,134.68 L472.50,134.83 L473.00,134.98 L473.50,135.14 L474.00,135.31 L474.50,135.51 L475.00,135.73 L475.50,135.99 L476.00,136.26 L476.50,136.56 L477.00,136.88 L477.50,137.21 L478.00,137.57 L478.50,137.93 L479.00,138.31 L479.50,138.69 L480.00,139.09 L480.50,139.48 L481.00,139.88 L481.50,140.28 L482.00,140.68 L482.50,141.07 L483.00,141.47 L483.50,141.87 L484.00,142.26 L484.50,142.64 L485.00,143.03 L485.50,143.41 L486.00,143.78 L486.50,144.15 L487.00,144.53 L487.50,144.90 L488.00,145.27 L488.50,145.63 L489.00,146.00 L489.50,146.37 L490.00,146.74 L490.50,147.11 L491.00,147.48 L491.50,147.85 L492.00,148.22 L492.50,148.59 L493.00,148.96 L493.50,149.34 L494.00,149.72 L494.50,150.10 L495.00,150.48 L495.50,150.87 L496.00,151.26 L496.50,151.65 L497.00,152.05 L497.50,152.46 L498.00,152.86 L498.50,153.27 L499.00,153.69 L499.50,154.10 L500.00,154.52 L500.50,154.94 L501.00,155.36 L501.50,155.78 L502.00,156.20 L502.50,156.62 L503.00,157.05 L503.50,157.47 L504.00,157.90 L504.50,158.32 L505.00,158.75 L505.50,159.17 L505.90,159.51" fill="none" stroke="#dc7a70" stroke-width="1.15" stroke-linejoin="round" stroke-linecap="round" />
<path d="M389.00,105.64 L389.50,107.69 L390.00,108.74 L390.50,108.32 L391.00,107.05 L391.50,105.47 L392.00,103.82 L392.50,102.24 L393.00,100.84 L393.50,99.58 L394.00,98.35 L394.50,97.15 L395.00,95.99 L395.50,94.88 L396.00,93.81 L396.50,92.82 L397.00,91.91 L397.50,91.08 L398.00,90.33 L398.50,89.66 L399.00,89.05 L399.50,88.51 L400.00,88.04 L400.50,87.66 L401.00,87.38 L401.50,87.20 L402.00,87.09 L402.50,87.05 L403.00,87.08 L403.50,87.17 L404.00,87.33 L404.50,87.55 L405.00,87.83 L405.50,88.16 L406.00,88.54 L406.50,88.95 L407.00,89.41 L407.50,89.91 L408.00,90.45 L408.50,91.01 L409.00,91.61 L409.50,92.23 L410.00,92.88 L410.50,93.54 L411.00,94.23 L411.50,94.92 L412.00,95.63 L412.50,96.35 L413.00,97.08 L413.50,97.82 L414.00,98.58 L414.50,99.35 L415.00,100.13 L415.50,100.92 L416.00,101.73 L416.50,102.53 L417.00,103.35 L417.50,104.17 L418.00,104.98 L418.50,105.81 L419.00,106.64 L419.50,107.48 L420.00,108.33 L420.50,109.18 L421.00,110.04 L421.50,110.89 L422.00,111.74 L422.50,112.59 L423.00,113.43 L423.50,114.27 L424.00,115.12 L424.50,115.98 L425.00,116.84 L425.50,117.69 L426.00,118.54 L426.50,119.37 L427.00,120.18 L427.50,120.97 L428.00,121.74 L428.50,122.48 L429.00,123.20 L429.50,123.91 L430.00,124.60 L430.50,125.28 L431.00,125.94 L431.50,126.61 L432.00,127.26 L432.50,127.92 L433.00,128.57 L433.50,129.23 L434.00,129.91 L434.50,130.60 L435.00,131.28 L435.50,131.96 L436.00,132.62 L436.50,133.24 L437.00,133.82 L437.50,134.36 L438.00,134.85 L438.50,135.31 L439.00,135.74 L439.50,136.16 L440.00,136.56 L440.50,136.93 L441.00,137.27 L441.50,137.59 L442.00,137.88 L442.50,138.14 L443.00,138.37 L443.50,138.58 L444.00,138.75 L444.50,138.89 L445.00,139.01 L445.50,139.11 L446.00,139.19 L446.50,139.25 L447.00,139.29 L447.50,139.32 L448.00,139.33 L448.50,139.32 L449.00,139.31 L449.50,139.28 L450.00,139.24 L450.50,139.18 L451.00,139.12 L451.50,139.02 L452.00,138.90 L452.50,138.77 L453.00,138.61 L453.50,138.44 L454.00,138.27 L454.50,138.08 L455.00,137.89 L455.50,137.70 L456.00,137.50 L456.50,137.31 L457.00,137.13 L457.50,136.96 L458.00,136.80 L458.50,136.63 L459.00,136.45 L459.50,136.28 L460.00,136.11 L460.50,135.95 L461.00,135.81 L461.50,135.69 L462.00,135.59 L462.50,135.51 L463.00,135.44 L463.50,135.38 L464.00,135.33 L464.50,135.29 L465.00,135.25 L465.50,135.23 L466.00,135.22 L466.50,135.22 L467.00,135.23 L467.50,135.26 L468.00,135.29 L468.50,135.34 L469.00,135.41 L469.50,135.48 L470.00,135.57 L470.50,135.68 L471.00,135.79 L471.50,135.93 L472.00,136.07 L472.50,136.21 L473.00,136.36 L473.50,136.51 L474.00,136.68 L474.50,136.87 L475.00,137.09 L475.50,137.33 L476.00,137.60 L476.50,137.88 L477.00,138.19 L477.50,138.51 L478.00,138.85 L478.50,139.20 L479.00,139.56 L479.50,139.93 L480.00,140.31 L480.50,140.68 L481.00,141.07 L481.50,141.45 L482.00,141.83 L482.50,142.21 L483.00,142.59 L483.50,142.97 L484.00,143.34 L484.50,143.71 L485.00,144.08 L485.50,144.44 L486.00,144.79 L486.50,145.15 L487.00,145.50 L487.50,145.85 L488.00,146.20 L488.50,146.55 L489.00,146.90 L489.50,147.25 L490.00,147.59 L490.50,147.94 L491.00,148.29 L491.50,148.64 L492.00,148.99 L492.50,149.35 L493.00,149.70 L493.50,150.06 L494.00,150.42 L494.50,150.78 L495.00,151.14 L495.50,151.51 L496.00,151.88 L496.50,152.25 L497.00,152.63 L497.50,153.02 L498.00,153.41 L498.50,153.80 L499.00,154.19 L499.50,154.59 L500.00,154.98 L500.50,155.38 L501.00,155.79 L501.50,156.19 L502.00,156.59 L502.50,157.00 L503.00,157.40 L503.50,157.81 L504.00,158.22 L504.50,158.62 L505.00,159.03 L505.50,159.43 L505.90,159.76" fill="none" stroke="#cf6258" stroke-width="1.15" stroke-linejoin="round" stroke-linecap="round" />
<path d="M389.00,108.06 L389.50,110.04 L390.00,111.09 L390.50,110.80 L391.00,109.74 L391.50,108.41 L392.00,106.99 L392.50,105.61 L393.00,104.36 L393.50,103.21 L394.00,102.06 L394.50,100.93 L395.00,99.82 L395.50,98.75 L396.00,97.73 L396.50,96.78 L397.00,95.91 L397.50,95.12 L398.00,94.40 L398.50,93.75 L399.00,93.16 L399.50,92.65 L400.00,92.21 L400.50,91.87 L401.00,91.62 L401.50,91.47 L402.00,91.38 L402.50,91.35 L403.00,91.37 L403.50,91.45 L404.00,91.60 L404.50,91.81 L405.00,92.08 L405.50,92.40 L406.00,92.76 L406.50,93.16 L407.00,93.61 L407.50,94.09 L408.00,94.60 L408.50,95.15 L409.00,95.72 L409.50,96.32 L410.00,96.93 L410.50,97.57 L411.00,98.22 L411.50,98.88 L412.00,99.56 L412.50,100.25 L413.00,100.95 L413.50,101.67 L414.00,102.41 L414.50,103.16 L415.00,103.92 L415.50,104.69 L416.00,105.47 L416.50,106.26 L417.00,107.05 L417.50,107.84 L418.00,108.64 L418.50,109.43 L419.00,110.23 L419.50,111.04 L420.00,111.85 L420.50,112.67 L421.00,113.49 L421.50,114.30 L422.00,115.12 L422.50,115.93 L423.00,116.74 L423.50,117.55 L424.00,118.36 L424.50,119.19 L425.00,120.01 L425.50,120.83 L426.00,121.64 L426.50,122.44 L427.00,123.22 L427.50,123.98 L428.00,124.71 L428.50,125.42 L429.00,126.10 L429.50,126.77 L430.00,127.43 L430.50,128.07 L431.00,128.71 L431.50,129.33 L432.00,129.95 L432.50,130.57 L433.00,131.18 L433.50,131.80 L434.00,132.43 L434.50,133.07 L435.00,133.71 L435.50,134.33 L436.00,134.94 L436.50,135.51 L437.00,136.05 L437.50,136.55 L438.00,137.01 L438.50,137.44 L439.00,137.85 L439.50,138.25 L440.00,138.63 L440.50,138.99 L441.00,139.32 L441.50,139.63 L442.00,139.91 L442.50,140.16 L443.00,140.39 L443.50,140.58 L444.00,140.75 L444.50,140.89 L445.00,141.00 L445.50,141.09 L446.00,141.16 L446.50,141.22 L447.00,141.26 L447.50,141.28 L448.00,141.29 L448.50,141.29 L449.00,141.27 L449.50,141.25 L450.00,141.21 L450.50,141.16 L451.00,141.10 L451.50,141.02 L452.00,140.91 L452.50,140.79 L453.00,140.65 L453.50,140.50 L454.00,140.35 L454.50,140.18 L455.00,140.01 L455.50,139.84 L456.00,139.66 L456.50,139.49 L457.00,139.33 L457.50,139.18 L458.00,139.03 L458.50,138.88 L459.00,138.73 L459.50,138.57 L460.00,138.42 L460.50,138.28 L461.00,138.16 L461.50,138.05 L462.00,137.97 L462.50,137.90 L463.00,137.83 L463.50,137.78 L464.00,137.73 L464.50,137.70 L465.00,137.67 L465.50,137.65 L466.00,137.64 L466.50,137.64 L467.00,137.65 L467.50,137.68 L468.00,137.71 L468.50,137.76 L469.00,137.81 L469.50,137.88 L470.00,137.97 L470.50,138.06 L471.00,138.17 L471.50,138.29 L472.00,138.42 L472.50,138.56 L473.00,138.70 L473.50,138.84 L474.00,139.00 L474.50,139.18 L475.00,139.38 L475.50,139.61 L476.00,139.86 L476.50,140.12 L477.00,140.40 L477.50,140.70 L478.00,141.02 L478.50,141.35 L479.00,141.68 L479.50,142.02 L480.00,142.37 L480.50,142.72 L481.00,143.07 L481.50,143.43 L482.00,143.78 L482.50,144.13 L483.00,144.48 L483.50,144.83 L484.00,145.17 L484.50,145.51 L485.00,145.85 L485.50,146.18 L486.00,146.50 L486.50,146.82 L487.00,147.14 L487.50,147.46 L488.00,147.78 L488.50,148.10 L489.00,148.41 L489.50,148.73 L490.00,149.04 L490.50,149.36 L491.00,149.67 L491.50,149.99 L492.00,150.31 L492.50,150.63 L493.00,150.95 L493.50,151.27 L494.00,151.59 L494.50,151.92 L495.00,152.25 L495.50,152.59 L496.00,152.93 L496.50,153.27 L497.00,153.62 L497.50,153.97 L498.00,154.32 L498.50,154.68 L499.00,155.05 L499.50,155.41 L500.00,155.78 L500.50,156.14 L501.00,156.51 L501.50,156.88 L502.00,157.26 L502.50,157.63 L503.00,158.00 L503.50,158.38 L504.00,158.75 L504.50,159.13 L505.00,159.50 L505.50,159.88 L505.90,160.17" fill="none" stroke="#c24e46" stroke-width="1.15" stroke-linejoin="round" stroke-linecap="round" />
<path d="M389.00,110.37 L389.50,112.29 L390.00,113.34 L390.50,113.17 L391.00,112.32 L391.50,111.21 L392.00,110.01 L392.50,108.82 L393.00,107.72 L393.50,106.67 L394.00,105.60 L394.50,104.53 L395.00,103.47 L395.50,102.44 L396.00,101.47 L396.50,100.56 L397.00,99.74 L397.50,98.97 L398.00,98.28 L398.50,97.65 L399.00,97.09 L399.50,96.60 L400.00,96.19 L400.50,95.88 L401.00,95.67 L401.50,95.54 L402.00,95.47 L402.50,95.45 L403.00,95.47 L403.50,95.54 L404.00,95.68 L404.50,95.88 L405.00,96.13 L405.50,96.44 L406.00,96.79 L406.50,97.18 L407.00,97.61 L407.50,98.08 L408.00,98.57 L408.50,99.10 L409.00,99.64 L409.50,100.21 L410.00,100.80 L410.50,101.41 L411.00,102.03 L411.50,102.67 L412.00,103.32 L412.50,103.98 L413.00,104.66 L413.50,105.35 L414.00,106.06 L414.50,106.79 L415.00,107.53 L415.50,108.29 L416.00,109.05 L416.50,109.82 L417.00,110.59 L417.50,111.36 L418.00,112.12 L418.50,112.89 L419.00,113.66 L419.50,114.44 L420.00,115.22 L420.50,116.00 L421.00,116.78 L421.50,117.56 L422.00,118.34 L422.50,119.12 L423.00,119.90 L423.50,120.67 L424.00,121.46 L424.50,122.25 L425.00,123.04 L425.50,123.83 L426.00,124.61 L426.50,125.37 L427.00,126.12 L427.50,126.84 L428.00,127.55 L428.50,128.22 L429.00,128.87 L429.50,129.51 L430.00,130.13 L430.50,130.74 L431.00,131.34 L431.50,131.93 L432.00,132.52 L432.50,133.10 L433.00,133.68 L433.50,134.25 L434.00,134.84 L434.50,135.43 L435.00,136.02 L435.50,136.59 L436.00,137.15 L436.50,137.68 L437.00,138.17 L437.50,138.64 L438.00,139.07 L438.50,139.47 L439.00,139.87 L439.50,140.24 L440.00,140.61 L440.50,140.95 L441.00,141.27 L441.50,141.57 L442.00,141.84 L442.50,142.09 L443.00,142.31 L443.50,142.50 L444.00,142.66 L444.50,142.79 L445.00,142.90 L445.50,142.98 L446.00,143.05 L446.50,143.10 L447.00,143.13 L447.50,143.16 L448.00,143.16 L448.50,143.16 L449.00,143.15 L449.50,143.12 L450.00,143.09 L450.50,143.05 L451.00,143.00 L451.50,142.92 L452.00,142.83 L452.50,142.72 L453.00,142.60 L453.50,142.47 L454.00,142.33 L454.50,142.18 L455.00,142.03 L455.50,141.88 L456.00,141.72 L456.50,141.57 L457.00,141.43 L457.50,141.29 L458.00,141.17 L458.50,141.04 L459.00,140.90 L459.50,140.77 L460.00,140.63 L460.50,140.51 L461.00,140.40 L461.50,140.31 L462.00,140.24 L462.50,140.17 L463.00,140.12 L463.50,140.07 L464.00,140.03 L464.50,140.00 L465.00,139.97 L465.50,139.96 L466.00,139.95 L466.50,139.95 L467.00,139.96 L467.50,139.98 L468.00,140.02 L468.50,140.06 L469.00,140.11 L469.50,140.17 L470.00,140.25 L470.50,140.34 L471.00,140.43 L471.50,140.55 L472.00,140.67 L472.50,140.80 L473.00,140.93 L473.50,141.06 L474.00,141.21 L474.50,141.38 L475.00,141.57 L475.50,141.78 L476.00,142.01 L476.50,142.26 L477.00,142.52 L477.50,142.80 L478.00,143.09 L478.50,143.39 L479.00,143.70 L479.50,144.02 L480.00,144.34 L480.50,144.67 L481.00,144.99 L481.50,145.32 L482.00,145.64 L482.50,145.97 L483.00,146.29 L483.50,146.61 L484.00,146.92 L484.50,147.23 L485.00,147.54 L485.50,147.84 L486.00,148.13 L486.50,148.43 L487.00,148.72 L487.50,149.00 L488.00,149.29 L488.50,149.57 L489.00,149.86 L489.50,150.14 L490.00,150.42 L490.50,150.71 L491.00,150.99 L491.50,151.28 L492.00,151.56 L492.50,151.85 L493.00,152.14 L493.50,152.43 L494.00,152.72 L494.50,153.02 L495.00,153.31 L495.50,153.62 L496.00,153.93 L496.50,154.24 L497.00,154.55 L497.50,154.88 L498.00,155.20 L498.50,155.53 L499.00,155.86 L499.50,156.19 L500.00,156.53 L500.50,156.87 L501.00,157.21 L501.50,157.55 L502.00,157.89 L502.50,158.23 L503.00,158.58 L503.50,158.92 L504.00,159.27 L504.50,159.61 L505.00,159.96 L505.50,160.30 L505.90,160.57" fill="none" stroke="#a83e38" stroke-width="1.15" stroke-linejoin="round" stroke-linecap="round" />
<path d="M389.00,114.00 L389.50,115.81 L390.00,116.88 L390.50,116.90 L391.00,116.37 L391.50,115.61 L392.00,114.76 L392.50,113.87 L393.00,113.00 L393.50,112.11 L394.00,111.16 L394.50,110.18 L395.00,109.21 L395.50,108.25 L396.00,107.34 L396.50,106.50 L397.00,105.74 L397.50,105.03 L398.00,104.37 L398.50,103.78 L399.00,103.25 L399.50,102.80 L400.00,102.44 L400.50,102.19 L401.00,102.03 L401.50,101.95 L402.00,101.91 L402.50,101.89 L403.00,101.91 L403.50,101.97 L404.00,102.09 L404.50,102.26 L405.00,102.50 L405.50,102.79 L406.00,103.12 L406.50,103.49 L407.00,103.90 L407.50,104.34 L408.00,104.81 L408.50,105.30 L409.00,105.81 L409.50,106.34 L410.00,106.88 L410.50,107.44 L411.00,108.02 L411.50,108.61 L412.00,109.22 L412.50,109.84 L413.00,110.47 L413.50,111.13 L414.00,111.81 L414.50,112.50 L415.00,113.22 L415.50,113.94 L416.00,114.67 L416.50,115.41 L417.00,116.14 L417.50,116.88 L418.00,117.60 L418.50,118.32 L419.00,119.05 L419.50,119.77 L420.00,120.50 L420.50,121.23 L421.00,121.96 L421.50,122.68 L422.00,123.41 L422.50,124.13 L423.00,124.86 L423.50,125.58 L424.00,126.31 L424.50,127.06 L425.00,127.80 L425.50,128.54 L426.00,129.26 L426.50,129.98 L427.00,130.68 L427.50,131.35 L428.00,132.00 L428.50,132.62 L429.00,133.22 L429.50,133.81 L430.00,134.38 L430.50,134.94 L431.00,135.49 L431.50,136.02 L432.00,136.55 L432.50,137.08 L433.00,137.59 L433.50,138.11 L434.00,138.63 L434.50,139.14 L435.00,139.65 L435.50,140.15 L436.00,140.62 L436.50,141.08 L437.00,141.51 L437.50,141.92 L438.00,142.30 L438.50,142.67 L439.00,143.03 L439.50,143.38 L440.00,143.72 L440.50,144.04 L441.00,144.34 L441.50,144.63 L442.00,144.89 L442.50,145.12 L443.00,145.33 L443.50,145.51 L444.00,145.66 L444.50,145.78 L445.00,145.87 L445.50,145.95 L446.00,146.01 L446.50,146.06 L447.00,146.09 L447.50,146.10 L448.00,146.11 L448.50,146.11 L449.00,146.09 L449.50,146.07 L450.00,146.05 L450.50,146.01 L451.00,145.97 L451.50,145.92 L452.00,145.84 L452.50,145.76 L453.00,145.66 L453.50,145.56 L454.00,145.45 L454.50,145.33 L455.00,145.21 L455.50,145.09 L456.00,144.96 L456.50,144.84 L457.00,144.73 L457.50,144.62 L458.00,144.52 L458.50,144.42 L459.00,144.31 L459.50,144.21 L460.00,144.11 L460.50,144.01 L461.00,143.93 L461.50,143.86 L462.00,143.80 L462.50,143.75 L463.00,143.71 L463.50,143.67 L464.00,143.64 L464.50,143.62 L465.00,143.60 L465.50,143.58 L466.00,143.58 L466.50,143.58 L467.00,143.59 L467.50,143.61 L468.00,143.64 L468.50,143.68 L469.00,143.72 L469.50,143.77 L470.00,143.84 L470.50,143.91 L471.00,144.00 L471.50,144.09 L472.00,144.20 L472.50,144.31 L473.00,144.43 L473.50,144.55 L474.00,144.69 L474.50,144.84 L475.00,145.01 L475.50,145.20 L476.00,145.40 L476.50,145.62 L477.00,145.85 L477.50,146.09 L478.00,146.34 L478.50,146.61 L479.00,146.88 L479.50,147.16 L480.00,147.44 L480.50,147.72 L481.00,148.01 L481.50,148.29 L482.00,148.57 L482.50,148.85 L483.00,149.13 L483.50,149.40 L484.00,149.67 L484.50,149.94 L485.00,150.20 L485.50,150.45 L486.00,150.70 L486.50,150.94 L487.00,151.19 L487.50,151.42 L488.00,151.66 L488.50,151.90 L489.00,152.13 L489.50,152.36 L490.00,152.60 L490.50,152.83 L491.00,153.06 L491.50,153.30 L492.00,153.53 L492.50,153.77 L493.00,154.01 L493.50,154.25 L494.00,154.49 L494.50,154.73 L495.00,154.98 L495.50,155.24 L496.00,155.50 L496.50,155.76 L497.00,156.03 L497.50,156.30 L498.00,156.58 L498.50,156.86 L499.00,157.14 L499.50,157.43 L500.00,157.72 L500.50,158.01 L501.00,158.30 L501.50,158.59 L502.00,158.89 L502.50,159.18 L503.00,159.48 L503.50,159.78 L504.00,160.07 L504.50,160.37 L505.00,160.67 L505.50,160.97 L505.90,161.20" fill="none" stroke="#2e1c1c" stroke-width="1.15" stroke-linejoin="round" stroke-linecap="round" />
<path d="M536.00,96.00 L536.50,98.49 L537.00,99.25 L537.50,98.19 L538.00,96.32 L538.50,94.18 L539.00,91.99 L539.50,89.89 L540.00,88.00 L540.50,86.27 L541.00,84.59 L541.50,82.95 L542.00,81.36 L542.50,79.83 L543.00,78.37 L543.50,77.00 L544.00,75.74 L544.50,74.59 L545.00,73.54 L545.50,72.59 L546.00,71.75 L546.50,71.00 L547.00,70.37 L547.50,69.88 L548.00,69.54 L548.50,69.34 L549.00,69.22 L549.50,69.14 L550.00,69.09 L550.50,69.10 L551.00,69.20 L551.50,69.38 L552.00,69.66 L552.50,70.00 L553.00,70.40 L553.50,70.83 L554.00,71.29 L554.50,71.77 L555.00,72.27 L555.50,72.80 L556.00,73.35 L556.50,73.93 L557.00,74.54 L557.50,75.18 L558.00,75.86 L558.50,76.59 L559.00,77.38 L559.50,78.23 L560.00,79.13 L560.50,80.06 L561.00,81.03 L561.50,82.02 L562.00,83.02 L562.50,84.02 L563.00,85.00 L563.50,85.99 L564.00,86.99 L564.50,88.01 L565.00,89.04 L565.50,90.08 L566.00,91.13 L566.50,92.18 L567.00,93.22 L567.50,94.26 L568.00,95.29 L568.50,96.32 L569.00,97.34 L569.50,98.37 L570.00,99.39 L570.50,100.41 L571.00,101.43 L571.50,102.45 L572.00,103.47 L572.50,104.48 L573.00,105.50 L573.50,106.52 L574.00,107.55 L574.50,108.59 L575.00,109.63 L575.50,110.67 L576.00,111.69 L576.50,112.70 L577.00,113.70 L577.50,114.68 L578.00,115.63 L578.50,116.56 L579.00,117.48 L579.50,118.40 L580.00,119.31 L580.50,120.21 L581.00,121.09 L581.50,121.97 L582.00,122.82 L582.50,123.65 L583.00,124.45 L583.50,125.23 L584.00,125.96 L584.50,126.65 L585.00,127.31 L585.50,127.93 L586.00,128.50 L586.50,129.02 L587.00,129.48 L587.50,129.89 L588.00,130.26 L588.50,130.60 L589.00,130.93 L589.50,131.23 L590.00,131.52 L590.50,131.79 L591.00,132.05 L591.50,132.28 L592.00,132.51 L592.50,132.71 L593.00,132.91 L593.50,133.08 L594.00,133.23 L594.50,133.37 L595.00,133.48 L595.50,133.57 L596.00,133.63 L596.50,133.66 L597.00,133.66 L597.50,133.63 L598.00,133.58 L598.50,133.51 L599.00,133.43 L599.50,133.34 L600.00,133.23 L600.50,133.11 L601.00,132.99 L601.50,132.87 L602.00,132.74 L602.50,132.62 L603.00,132.50 L603.50,132.36 L604.00,132.19 L604.50,132.00 L605.00,131.79 L605.50,131.58 L606.00,131.37 L606.50,131.17 L607.00,131.00 L607.50,130.84 L608.00,130.67 L608.50,130.51 L609.00,130.34 L609.50,130.19 L610.00,130.03 L610.50,129.89 L611.00,129.76 L611.50,129.64 L612.00,129.53 L612.50,129.46 L613.00,129.40 L613.50,129.36 L614.00,129.35 L614.50,129.38 L615.00,129.43 L615.50,129.50 L616.00,129.60 L616.50,129.68 L617.00,129.74 L617.50,129.80 L618.00,129.91 L618.50,130.07 L619.00,130.28 L619.50,130.55 L620.00,130.86 L620.50,131.20 L621.00,131.57 L621.50,131.97 L622.00,132.38 L622.50,132.81 L623.00,133.24 L623.50,133.69 L624.00,134.14 L624.50,134.59 L625.00,135.05 L625.50,135.50 L626.00,135.96 L626.50,136.42 L627.00,136.88 L627.50,137.33 L628.00,137.78 L628.50,138.23 L629.00,138.67 L629.50,139.10 L630.00,139.53 L630.50,139.95 L631.00,140.37 L631.50,140.78 L632.00,141.19 L632.50,141.59 L633.00,142.00 L633.50,142.40 L634.00,142.80 L634.50,143.20 L635.00,143.60 L635.50,143.99 L636.00,144.39 L636.50,144.79 L637.00,145.19 L637.50,145.59 L638.00,145.99 L638.50,146.39 L639.00,146.79 L639.50,147.20 L640.00,147.61 L640.50,148.02 L641.00,148.43 L641.50,148.85 L642.00,149.27 L642.50,149.70 L643.00,150.12 L643.50,150.55 L644.00,150.98 L644.50,151.41 L645.00,151.84 L645.50,152.28 L646.00,152.71 L646.50,153.14 L647.00,153.58 L647.50,154.02 L648.00,154.45 L648.50,154.89 L649.00,155.33 L649.50,155.77 L650.00,156.20 L650.50,156.64 L651.00,157.08 L651.50,157.51 L651.60,157.60" fill="none" stroke="#a0dcea" stroke-width="1.15" stroke-linejoin="round" stroke-linecap="round" />
<path d="M536.00,98.88 L536.50,101.31 L537.00,102.10 L537.50,101.15 L538.00,99.45 L538.50,97.50 L539.00,95.48 L539.50,93.54 L540.00,91.78 L540.50,90.16 L541.00,88.56 L541.50,87.00 L542.00,85.48 L542.50,84.01 L543.00,82.62 L543.50,81.32 L544.00,80.13 L544.50,79.04 L545.00,78.05 L545.50,77.17 L546.00,76.38 L546.50,75.68 L547.00,75.09 L547.50,74.65 L548.00,74.34 L548.50,74.16 L549.00,74.06 L549.50,73.98 L550.00,73.93 L550.50,73.94 L551.00,74.03 L551.50,74.20 L552.00,74.46 L552.50,74.79 L553.00,75.17 L553.50,75.59 L554.00,76.03 L554.50,76.50 L555.00,76.99 L555.50,77.50 L556.00,78.03 L556.50,78.59 L557.00,79.18 L557.50,79.80 L558.00,80.45 L558.50,81.16 L559.00,81.92 L559.50,82.73 L560.00,83.59 L560.50,84.49 L561.00,85.42 L561.50,86.37 L562.00,87.33 L562.50,88.28 L563.00,89.23 L563.50,90.18 L564.00,91.15 L564.50,92.14 L565.00,93.14 L565.50,94.14 L566.00,95.15 L566.50,96.17 L567.00,97.18 L567.50,98.18 L568.00,99.17 L568.50,100.16 L569.00,101.14 L569.50,102.12 L570.00,103.10 L570.50,104.07 L571.00,105.04 L571.50,106.02 L572.00,106.99 L572.50,107.95 L573.00,108.92 L573.50,109.89 L574.00,110.88 L574.50,111.86 L575.00,112.85 L575.50,113.84 L576.00,114.81 L576.50,115.77 L577.00,116.71 L577.50,117.63 L578.00,118.53 L578.50,119.40 L579.00,120.26 L579.50,121.11 L580.00,121.94 L580.50,122.77 L581.00,123.57 L581.50,124.37 L582.00,125.14 L582.50,125.89 L583.00,126.62 L583.50,127.33 L584.00,127.99 L584.50,128.63 L585.00,129.23 L585.50,129.81 L586.00,130.34 L586.50,130.81 L587.00,131.25 L587.50,131.64 L588.00,131.99 L588.50,132.32 L589.00,132.63 L589.50,132.93 L590.00,133.20 L590.50,133.47 L591.00,133.72 L591.50,133.95 L592.00,134.17 L592.50,134.37 L593.00,134.56 L593.50,134.73 L594.00,134.88 L594.50,135.02 L595.00,135.12 L595.50,135.21 L596.00,135.27 L596.50,135.29 L597.00,135.29 L597.50,135.26 L598.00,135.21 L598.50,135.14 L599.00,135.05 L599.50,134.95 L600.00,134.85 L600.50,134.73 L601.00,134.61 L601.50,134.48 L602.00,134.35 L602.50,134.23 L603.00,134.10 L603.50,133.95 L604.00,133.78 L604.50,133.58 L605.00,133.36 L605.50,133.14 L606.00,132.92 L606.50,132.72 L607.00,132.55 L607.50,132.38 L608.00,132.22 L608.50,132.06 L609.00,131.90 L609.50,131.74 L610.00,131.59 L610.50,131.45 L611.00,131.32 L611.50,131.20 L612.00,131.10 L612.50,131.02 L613.00,130.96 L613.50,130.93 L614.00,130.92 L614.50,130.94 L615.00,130.99 L615.50,131.06 L616.00,131.15 L616.50,131.22 L617.00,131.27 L617.50,131.32 L618.00,131.41 L618.50,131.56 L619.00,131.75 L619.50,132.00 L620.00,132.29 L620.50,132.60 L621.00,132.95 L621.50,133.32 L622.00,133.70 L622.50,134.10 L623.00,134.50 L623.50,134.92 L624.00,135.33 L624.50,135.76 L625.00,136.18 L625.50,136.61 L626.00,137.04 L626.50,137.47 L627.00,137.89 L627.50,138.32 L628.00,138.74 L628.50,139.16 L629.00,139.58 L629.50,139.99 L630.00,140.40 L630.50,140.80 L631.00,141.20 L631.50,141.60 L632.00,142.00 L632.50,142.39 L633.00,142.78 L633.50,143.17 L634.00,143.56 L634.50,143.95 L635.00,144.34 L635.50,144.73 L636.00,145.12 L636.50,145.51 L637.00,145.90 L637.50,146.30 L638.00,146.69 L638.50,147.08 L639.00,147.47 L639.50,147.87 L640.00,148.27 L640.50,148.67 L641.00,149.07 L641.50,149.47 L642.00,149.88 L642.50,150.29 L643.00,150.70 L643.50,151.11 L644.00,151.52 L644.50,151.93 L645.00,152.35 L645.50,152.76 L646.00,153.18 L646.50,153.59 L647.00,154.01 L647.50,154.43 L648.00,154.84 L648.50,155.26 L649.00,155.68 L649.50,156.10 L650.00,156.52 L650.50,156.93 L651.00,157.35 L651.50,157.77 L651.60,157.85" fill="none" stroke="#6cc2d4" stroke-width="1.15" stroke-linejoin="round" stroke-linecap="round" />
<path d="M536.00,103.68 L536.50,106.01 L537.00,106.83 L537.50,106.09 L538.00,104.67 L538.50,103.02 L539.00,101.30 L539.50,99.62 L540.00,98.08 L540.50,96.63 L541.00,95.18 L541.50,93.75 L542.00,92.35 L542.50,90.99 L543.00,89.71 L543.50,88.52 L544.00,87.45 L544.50,86.47 L545.00,85.58 L545.50,84.79 L546.00,84.09 L546.50,83.48 L547.00,82.97 L547.50,82.59 L548.00,82.35 L548.50,82.20 L549.00,82.12 L549.50,82.06 L550.00,82.01 L550.50,82.00 L551.00,82.07 L551.50,82.23 L552.00,82.46 L552.50,82.77 L553.00,83.13 L553.50,83.52 L554.00,83.94 L554.50,84.38 L555.00,84.85 L555.50,85.33 L556.00,85.84 L556.50,86.36 L557.00,86.92 L557.50,87.50 L558.00,88.11 L558.50,88.77 L559.00,89.48 L559.50,90.24 L560.00,91.03 L560.50,91.87 L561.00,92.73 L561.50,93.61 L562.00,94.50 L562.50,95.39 L563.00,96.28 L563.50,97.17 L564.00,98.08 L564.50,99.01 L565.00,99.96 L565.50,100.91 L566.00,101.86 L566.50,102.82 L567.00,103.77 L567.50,104.71 L568.00,105.64 L568.50,106.55 L569.00,107.46 L569.50,108.37 L570.00,109.27 L570.50,110.17 L571.00,111.07 L571.50,111.96 L572.00,112.85 L572.50,113.73 L573.00,114.62 L573.50,115.51 L574.00,116.41 L574.50,117.32 L575.00,118.22 L575.50,119.12 L576.00,120.01 L576.50,120.88 L577.00,121.74 L577.50,122.57 L578.00,123.37 L578.50,124.14 L579.00,124.89 L579.50,125.62 L580.00,126.34 L580.50,127.03 L581.00,127.71 L581.50,128.36 L582.00,129.00 L582.50,129.63 L583.00,130.24 L583.50,130.82 L584.00,131.39 L584.50,131.92 L585.00,132.44 L585.50,132.93 L586.00,133.39 L586.50,133.81 L587.00,134.20 L587.50,134.55 L588.00,134.88 L588.50,135.19 L589.00,135.47 L589.50,135.75 L590.00,136.01 L590.50,136.26 L591.00,136.50 L591.50,136.73 L592.00,136.94 L592.50,137.14 L593.00,137.32 L593.50,137.49 L594.00,137.63 L594.50,137.76 L595.00,137.86 L595.50,137.94 L596.00,137.99 L596.50,138.01 L597.00,138.00 L597.50,137.97 L598.00,137.91 L598.50,137.84 L599.00,137.75 L599.50,137.65 L600.00,137.54 L600.50,137.42 L601.00,137.29 L601.50,137.16 L602.00,137.03 L602.50,136.90 L603.00,136.76 L603.50,136.60 L604.00,136.42 L604.50,136.21 L605.00,135.98 L605.50,135.74 L606.00,135.52 L606.50,135.31 L607.00,135.13 L607.50,134.96 L608.00,134.80 L608.50,134.64 L609.00,134.48 L609.50,134.33 L610.00,134.19 L610.50,134.05 L611.00,133.92 L611.50,133.81 L612.00,133.71 L612.50,133.63 L613.00,133.58 L613.50,133.54 L614.00,133.53 L614.50,133.55 L615.00,133.59 L615.50,133.66 L616.00,133.73 L616.50,133.78 L617.00,133.82 L617.50,133.85 L618.00,133.92 L618.50,134.04 L619.00,134.20 L619.50,134.42 L620.00,134.67 L620.50,134.94 L621.00,135.25 L621.50,135.57 L622.00,135.90 L622.50,136.25 L623.00,136.60 L623.50,136.96 L624.00,137.33 L624.50,137.70 L625.00,138.08 L625.50,138.45 L626.00,138.83 L626.50,139.21 L627.00,139.59 L627.50,139.97 L628.00,140.35 L628.50,140.73 L629.00,141.11 L629.50,141.48 L630.00,141.86 L630.50,142.23 L631.00,142.60 L631.50,142.97 L632.00,143.34 L632.50,143.72 L633.00,144.09 L633.50,144.46 L634.00,144.84 L634.50,145.21 L635.00,145.59 L635.50,145.97 L636.00,146.34 L636.50,146.72 L637.00,147.10 L637.50,147.47 L638.00,147.85 L638.50,148.23 L639.00,148.61 L639.50,148.99 L640.00,149.37 L640.50,149.75 L641.00,150.13 L641.50,150.51 L642.00,150.89 L642.50,151.27 L643.00,151.65 L643.50,152.04 L644.00,152.42 L644.50,152.80 L645.00,153.19 L645.50,153.57 L646.00,153.96 L646.50,154.34 L647.00,154.73 L647.50,155.11 L648.00,155.50 L648.50,155.88 L649.00,156.27 L649.50,156.65 L650.00,157.04 L650.50,157.42 L651.00,157.81 L651.50,158.20 L651.60,158.27" fill="none" stroke="#553f7e" stroke-width="1.15" stroke-linejoin="round" stroke-linecap="round" />
<path d="M536.00,107.84 L536.50,110.08 L537.00,110.94 L537.50,110.37 L538.00,109.19 L538.50,107.80 L539.00,106.33 L539.50,104.89 L540.00,103.54 L540.50,102.24 L541.00,100.92 L541.50,99.60 L542.00,98.30 L542.50,97.04 L543.00,95.85 L543.50,94.76 L544.00,93.78 L544.50,92.90 L545.00,92.11 L545.50,91.40 L546.00,90.78 L546.50,90.24 L547.00,89.79 L547.50,89.48 L548.00,89.28 L548.50,89.17 L549.00,89.12 L549.50,89.06 L550.00,89.01 L550.50,88.99 L551.00,89.05 L551.50,89.18 L552.00,89.40 L552.50,89.68 L553.00,90.02 L553.50,90.40 L554.00,90.79 L554.50,91.22 L555.00,91.66 L555.50,92.12 L556.00,92.60 L556.50,93.10 L557.00,93.62 L557.50,94.17 L558.00,94.75 L558.50,95.37 L559.00,96.03 L559.50,96.74 L560.00,97.48 L560.50,98.26 L561.00,99.07 L561.50,99.89 L562.00,100.72 L562.50,101.56 L563.00,102.39 L563.50,103.23 L564.00,104.09 L564.50,104.97 L565.00,105.87 L565.50,106.77 L566.00,107.68 L566.50,108.58 L567.00,109.48 L567.50,110.37 L568.00,111.24 L568.50,112.09 L569.00,112.94 L569.50,113.79 L570.00,114.63 L570.50,115.46 L571.00,116.29 L571.50,117.11 L572.00,117.93 L572.50,118.75 L573.00,119.56 L573.50,120.38 L574.00,121.21 L574.50,122.04 L575.00,122.87 L575.50,123.70 L576.00,124.51 L576.50,125.31 L577.00,126.09 L577.50,126.84 L578.00,127.56 L578.50,128.25 L579.00,128.90 L579.50,129.54 L580.00,130.14 L580.50,130.73 L581.00,131.29 L581.50,131.83 L582.00,132.36 L582.50,132.87 L583.00,133.37 L583.50,133.86 L584.00,134.33 L584.50,134.78 L585.00,135.22 L585.50,135.64 L586.00,136.04 L586.50,136.41 L587.00,136.76 L587.50,137.08 L588.00,137.38 L588.50,137.67 L589.00,137.94 L589.50,138.19 L590.00,138.44 L590.50,138.68 L591.00,138.92 L591.50,139.13 L592.00,139.34 L592.50,139.53 L593.00,139.71 L593.50,139.87 L594.00,140.02 L594.50,140.14 L595.00,140.24 L595.50,140.31 L596.00,140.36 L596.50,140.37 L597.00,140.35 L597.50,140.32 L598.00,140.26 L598.50,140.18 L599.00,140.09 L599.50,139.99 L600.00,139.87 L600.50,139.75 L601.00,139.62 L601.50,139.48 L602.00,139.35 L602.50,139.21 L603.00,139.07 L603.50,138.91 L604.00,138.71 L604.50,138.49 L605.00,138.25 L605.50,138.00 L606.00,137.76 L606.50,137.55 L607.00,137.36 L607.50,137.20 L608.00,137.03 L608.50,136.88 L609.00,136.72 L609.50,136.58 L610.00,136.43 L610.50,136.30 L611.00,136.18 L611.50,136.07 L612.00,135.97 L612.50,135.89 L613.00,135.84 L613.50,135.80 L614.00,135.80 L614.50,135.81 L615.00,135.85 L615.50,135.90 L616.00,135.96 L616.50,136.01 L617.00,136.02 L617.50,136.04 L618.00,136.09 L618.50,136.19 L619.00,136.33 L619.50,136.51 L620.00,136.73 L620.50,136.97 L621.00,137.24 L621.50,137.52 L622.00,137.81 L622.50,138.11 L623.00,138.42 L623.50,138.74 L624.00,139.06 L624.50,139.39 L625.00,139.72 L625.50,140.05 L626.00,140.38 L626.50,140.72 L627.00,141.06 L627.50,141.40 L628.00,141.74 L628.50,142.08 L629.00,142.43 L629.50,142.77 L630.00,143.11 L630.50,143.46 L631.00,143.81 L631.50,144.16 L632.00,144.51 L632.50,144.87 L633.00,145.22 L633.50,145.58 L634.00,145.94 L634.50,146.31 L635.00,146.67 L635.50,147.03 L636.00,147.40 L636.50,147.77 L637.00,148.13 L637.50,148.50 L638.00,148.86 L638.50,149.23 L639.00,149.59 L639.50,149.96 L640.00,150.32 L640.50,150.68 L641.00,151.05 L641.50,151.41 L642.00,151.76 L642.50,152.12 L643.00,152.48 L643.50,152.84 L644.00,153.20 L644.50,153.56 L645.00,153.92 L645.50,154.27 L646.00,154.63 L646.50,154.99 L647.00,155.35 L647.50,155.70 L648.00,156.06 L648.50,156.42 L649.00,156.78 L649.50,157.13 L650.00,157.49 L650.50,157.85 L651.00,158.21 L651.50,158.56 L651.60,158.64" fill="none" stroke="#6e3c84" stroke-width="1.15" stroke-linejoin="round" stroke-linecap="round" />
<path d="M536.00,109.12 L536.50,111.33 L537.00,112.20 L537.50,111.68 L538.00,110.59 L538.50,109.27 L539.00,107.88 L539.50,106.51 L540.00,105.22 L540.50,103.97 L541.00,102.68 L541.50,101.40 L542.00,100.13 L542.50,98.90 L543.00,97.74 L543.50,96.68 L544.00,95.73 L544.50,94.88 L545.00,94.11 L545.50,93.44 L546.00,92.84 L546.50,92.32 L547.00,91.90 L547.50,91.59 L548.00,91.41 L548.50,91.32 L549.00,91.27 L549.50,91.22 L550.00,91.16 L550.50,91.15 L551.00,91.20 L551.50,91.32 L552.00,91.53 L552.50,91.81 L553.00,92.15 L553.50,92.51 L554.00,92.90 L554.50,93.32 L555.00,93.75 L555.50,94.20 L556.00,94.68 L556.50,95.17 L557.00,95.68 L557.50,96.22 L558.00,96.79 L558.50,97.40 L559.00,98.05 L559.50,98.74 L560.00,99.47 L560.50,100.23 L561.00,101.02 L561.50,101.82 L562.00,102.64 L562.50,103.45 L563.00,104.27 L563.50,105.10 L564.00,105.94 L564.50,106.81 L565.00,107.69 L565.50,108.57 L566.00,109.46 L566.50,110.35 L567.00,111.23 L567.50,112.11 L568.00,112.96 L568.50,113.80 L569.00,114.63 L569.50,115.46 L570.00,116.27 L570.50,117.09 L571.00,117.89 L571.50,118.69 L572.00,119.49 L572.50,120.29 L573.00,121.08 L573.50,121.88 L574.00,122.69 L574.50,123.50 L575.00,124.31 L575.50,125.11 L576.00,125.90 L576.50,126.68 L577.00,127.43 L577.50,128.16 L578.00,128.85 L578.50,129.51 L579.00,130.14 L579.50,130.74 L580.00,131.32 L580.50,131.86 L581.00,132.39 L581.50,132.90 L582.00,133.39 L582.50,133.86 L583.00,134.33 L583.50,134.79 L584.00,135.23 L584.50,135.66 L585.00,136.08 L585.50,136.47 L586.00,136.85 L586.50,137.21 L587.00,137.55 L587.50,137.86 L588.00,138.15 L588.50,138.43 L589.00,138.69 L589.50,138.95 L590.00,139.19 L590.50,139.43 L591.00,139.66 L591.50,139.88 L592.00,140.08 L592.50,140.27 L593.00,140.45 L593.50,140.61 L594.00,140.75 L594.50,140.87 L595.00,140.97 L595.50,141.04 L596.00,141.08 L596.50,141.09 L597.00,141.08 L597.50,141.04 L598.00,140.98 L598.50,140.90 L599.00,140.81 L599.50,140.71 L600.00,140.59 L600.50,140.47 L601.00,140.34 L601.50,140.20 L602.00,140.06 L602.50,139.92 L603.00,139.78 L603.50,139.61 L604.00,139.41 L604.50,139.19 L605.00,138.94 L605.50,138.69 L606.00,138.45 L606.50,138.24 L607.00,138.05 L607.50,137.88 L608.00,137.72 L608.50,137.56 L609.00,137.41 L609.50,137.27 L610.00,137.13 L610.50,136.99 L611.00,136.87 L611.50,136.76 L612.00,136.67 L612.50,136.59 L613.00,136.53 L613.50,136.50 L614.00,136.49 L614.50,136.51 L615.00,136.55 L615.50,136.60 L616.00,136.65 L616.50,136.69 L617.00,136.70 L617.50,136.72 L618.00,136.76 L618.50,136.85 L619.00,136.98 L619.50,137.16 L620.00,137.36 L620.50,137.60 L621.00,137.85 L621.50,138.12 L622.00,138.40 L622.50,138.69 L623.00,138.99 L623.50,139.29 L624.00,139.59 L624.50,139.91 L625.00,140.22 L625.50,140.54 L626.00,140.86 L626.50,141.19 L627.00,141.51 L627.50,141.84 L628.00,142.17 L628.50,142.50 L629.00,142.83 L629.50,143.17 L630.00,143.50 L630.50,143.84 L631.00,144.18 L631.50,144.52 L632.00,144.87 L632.50,145.22 L633.00,145.57 L633.50,145.93 L634.00,146.28 L634.50,146.64 L635.00,147.00 L635.50,147.36 L636.00,147.72 L636.50,148.09 L637.00,148.45 L637.50,148.81 L638.00,149.17 L638.50,149.54 L639.00,149.90 L639.50,150.26 L640.00,150.62 L640.50,150.97 L641.00,151.33 L641.50,151.68 L642.00,152.03 L642.50,152.39 L643.00,152.74 L643.50,153.09 L644.00,153.44 L644.50,153.79 L645.00,154.14 L645.50,154.49 L646.00,154.84 L646.50,155.19 L647.00,155.54 L647.50,155.89 L648.00,156.24 L648.50,156.58 L649.00,156.93 L649.50,157.28 L650.00,157.63 L650.50,157.98 L651.00,158.33 L651.50,158.68 L651.60,158.75" fill="none" stroke="#a050ad" stroke-width="1.15" stroke-linejoin="round" stroke-linecap="round" />
<path d="M536.00,112.00 L536.50,114.15 L537.00,115.04 L537.50,114.65 L538.00,113.72 L538.50,112.58 L539.00,111.37 L539.50,110.16 L540.00,109.00 L540.50,107.85 L541.00,106.66 L541.50,105.45 L542.00,104.25 L542.50,103.09 L543.00,101.99 L543.50,101.00 L544.00,100.12 L544.50,99.33 L545.00,98.63 L545.50,98.01 L546.00,97.47 L546.50,97.00 L547.00,96.62 L547.50,96.36 L548.00,96.21 L548.50,96.14 L549.00,96.11 L549.50,96.06 L550.00,96.01 L550.50,95.99 L551.00,96.02 L551.50,96.14 L552.00,96.33 L552.50,96.60 L553.00,96.92 L553.50,97.27 L554.00,97.65 L554.50,98.05 L555.00,98.47 L555.50,98.90 L556.00,99.36 L556.50,99.83 L557.00,100.33 L557.50,100.84 L558.00,101.39 L558.50,101.97 L559.00,102.59 L559.50,103.24 L560.00,103.93 L560.50,104.66 L561.00,105.40 L561.50,106.17 L562.00,106.94 L562.50,107.72 L563.00,108.50 L563.50,109.29 L564.00,110.10 L564.50,110.94 L565.00,111.78 L565.50,112.63 L566.00,113.49 L566.50,114.34 L567.00,115.19 L567.50,116.02 L568.00,116.84 L568.50,117.64 L569.00,118.43 L569.50,119.21 L570.00,119.98 L570.50,120.75 L571.00,121.51 L571.50,122.26 L572.00,123.01 L572.50,123.76 L573.00,124.50 L573.50,125.25 L574.00,126.01 L574.50,126.77 L575.00,127.53 L575.50,128.28 L576.00,129.02 L576.50,129.74 L577.00,130.44 L577.50,131.12 L578.00,131.76 L578.50,132.35 L579.00,132.92 L579.50,133.45 L580.00,133.95 L580.50,134.42 L581.00,134.87 L581.50,135.30 L582.00,135.71 L582.50,136.11 L583.00,136.50 L583.50,136.89 L584.00,137.27 L584.50,137.64 L585.00,138.00 L585.50,138.35 L586.00,138.69 L586.50,139.01 L587.00,139.32 L587.50,139.61 L588.00,139.89 L588.50,140.15 L589.00,140.40 L589.50,140.64 L590.00,140.88 L590.50,141.11 L591.00,141.33 L591.50,141.54 L592.00,141.74 L592.50,141.93 L593.00,142.10 L593.50,142.26 L594.00,142.40 L594.50,142.52 L595.00,142.61 L595.50,142.68 L596.00,142.72 L596.50,142.73 L597.00,142.71 L597.50,142.67 L598.00,142.61 L598.50,142.53 L599.00,142.43 L599.50,142.33 L600.00,142.21 L600.50,142.08 L601.00,141.95 L601.50,141.81 L602.00,141.67 L602.50,141.53 L603.00,141.38 L603.50,141.21 L604.00,141.00 L604.50,140.77 L605.00,140.51 L605.50,140.26 L606.00,140.01 L606.50,139.79 L607.00,139.60 L607.50,139.43 L608.00,139.27 L608.50,139.11 L609.00,138.96 L609.50,138.82 L610.00,138.68 L610.50,138.55 L611.00,138.44 L611.50,138.33 L612.00,138.23 L612.50,138.16 L613.00,138.10 L613.50,138.07 L614.00,138.06 L614.50,138.08 L615.00,138.11 L615.50,138.15 L616.00,138.20 L616.50,138.23 L617.00,138.23 L617.50,138.24 L618.00,138.27 L618.50,138.34 L619.00,138.45 L619.50,138.61 L620.00,138.79 L620.50,139.00 L621.00,139.23 L621.50,139.47 L622.00,139.72 L622.50,139.98 L623.00,140.25 L623.50,140.52 L624.00,140.79 L624.50,141.07 L625.00,141.36 L625.50,141.65 L626.00,141.94 L626.50,142.23 L627.00,142.53 L627.50,142.83 L628.00,143.13 L628.50,143.44 L629.00,143.75 L629.50,144.06 L630.00,144.37 L630.50,144.69 L631.00,145.01 L631.50,145.34 L632.00,145.68 L632.50,146.01 L633.00,146.36 L633.50,146.70 L634.00,147.05 L634.50,147.40 L635.00,147.75 L635.50,148.10 L636.00,148.46 L636.50,148.81 L637.00,149.17 L637.50,149.52 L638.00,149.87 L638.50,150.23 L639.00,150.58 L639.50,150.93 L640.00,151.28 L640.50,151.62 L641.00,151.96 L641.50,152.30 L642.00,152.64 L642.50,152.98 L643.00,153.31 L643.50,153.65 L644.00,153.98 L644.50,154.31 L645.00,154.64 L645.50,154.98 L646.00,155.31 L646.50,155.64 L647.00,155.97 L647.50,156.30 L648.00,156.63 L648.50,156.96 L649.00,157.29 L649.50,157.62 L650.00,157.94 L650.50,158.27 L651.00,158.60 L651.50,158.93 L651.60,159.00" fill="none" stroke="#e3a0e3" stroke-width="1.15" stroke-linejoin="round" stroke-linecap="round" />
<line x1="50.5" y1="229.9" x2="50.5" y2="356.5" stroke="#231f20" stroke-width="1.1" />
<line x1="49.95" y1="356.0" x2="174.6" y2="356.0" stroke="#262626" stroke-width="1.0" />
<line x1="50.0" y1="230.5" x2="54.6" y2="230.5" stroke="#231f20" stroke-width="1.1" />
<line x1="50.0" y1="253.3" x2="54.6" y2="253.3" stroke="#231f20" stroke-width="1.1" />
<line x1="50.0" y1="287.3" x2="54.6" y2="287.3" stroke="#231f20" stroke-width="1.1" />
<line x1="50.0" y1="316.0" x2="54.6" y2="316.0" stroke="#231f20" stroke-width="1.1" />
<line x1="50.0" y1="343.5" x2="54.6" y2="343.5" stroke="#231f20" stroke-width="1.1" />
<line x1="74.4" y1="356.0" x2="74.4" y2="352.0" stroke="#231f20" stroke-width="1.1" />
<text x="74.4" y="371.3" font-size="11.8" text-anchor="middle" font-weight="normal"  fill="#231f20" >0.5</text>
<line x1="99.2" y1="356.0" x2="99.2" y2="352.0" stroke="#231f20" stroke-width="1.1" />
<text x="99.2" y="371.3" font-size="11.8" text-anchor="middle" font-weight="normal"  fill="#231f20" >1.0</text>
<line x1="124.3" y1="356.0" x2="124.3" y2="352.0" stroke="#231f20" stroke-width="1.1" />
<text x="124.3" y="371.3" font-size="11.8" text-anchor="middle" font-weight="normal"  fill="#231f20" >1.5</text>
<line x1="149.2" y1="356.0" x2="149.2" y2="352.0" stroke="#231f20" stroke-width="1.1" />
<text x="149.2" y="371.3" font-size="11.8" text-anchor="middle" font-weight="normal"  fill="#231f20" >2.0</text>
<line x1="174.1" y1="356.0" x2="174.1" y2="352.0" stroke="#231f20" stroke-width="1.1" />
<text x="174.1" y="371.3" font-size="11.8" text-anchor="middle" font-weight="normal"  fill="#231f20" >2.5</text>
<text x="44.3" y="234.4" font-size="11.8" text-anchor="end" font-weight="normal"  fill="#231f20" >2.0</text>
<text x="44.3" y="261.8" font-size="11.8" text-anchor="end" font-weight="normal"  fill="#231f20" >1.5</text>
<text x="44.3" y="289.4" font-size="11.8" text-anchor="end" font-weight="normal"  fill="#231f20" >1.0</text>
<text x="44.3" y="317.9" font-size="11.8" text-anchor="end" font-weight="normal"  fill="#231f20" >0.5</text>
<text x="44.3" y="345.8" font-size="11.8" text-anchor="end" font-weight="normal"  fill="#231f20" >0</text>
<text x="112.5" y="389.0" font-size="11.8" text-anchor="middle" font-weight="normal"  fill="#231f20" >Eps8 (µM)</text>
<line x1="199.7" y1="356.0" x2="319.3" y2="356.0" stroke="#262626" stroke-width="1.0" />
<line x1="200.2" y1="356.0" x2="200.2" y2="352.0" stroke="#231f20" stroke-width="1.1" />
<text x="200.2" y="371.3" font-size="11.8" text-anchor="middle" font-weight="normal"  fill="#231f20" >0</text>
<line x1="223.92" y1="356.0" x2="223.92" y2="352.0" stroke="#231f20" stroke-width="1.1" />
<text x="223.92" y="371.3" font-size="11.8" text-anchor="middle" font-weight="normal"  fill="#231f20" >10</text>
<line x1="247.64" y1="356.0" x2="247.64" y2="352.0" stroke="#231f20" stroke-width="1.1" />
<text x="247.64" y="371.3" font-size="11.8" text-anchor="middle" font-weight="normal"  fill="#231f20" >20</text>
<line x1="271.36" y1="356.0" x2="271.36" y2="352.0" stroke="#231f20" stroke-width="1.1" />
<text x="271.36" y="371.3" font-size="11.8" text-anchor="middle" font-weight="normal"  fill="#231f20" >30</text>
<line x1="295.08" y1="356.0" x2="295.08" y2="352.0" stroke="#231f20" stroke-width="1.1" />
<text x="295.08" y="371.3" font-size="11.8" text-anchor="middle" font-weight="normal"  fill="#231f20" >40</text>
<line x1="318.79999999999995" y1="356.0" x2="318.79999999999995" y2="352.0" stroke="#231f20" stroke-width="1.1" />
<text x="318.8" y="371.3" font-size="11.8" text-anchor="middle" font-weight="normal"  fill="#231f20" >50</text>
<text x="260.3" y="389.3" font-size="11.8" text-anchor="middle" fill="#231f20">Cdc42<tspan dy="3.6" font-size="9">G12V</tspan><tspan dy="-3.6"> (µM)</tspan></text>
<text x="0" y="0" font-size="11.8" fill="#231f20" text-anchor="middle" transform="translate(18.2,293.2) rotate(-90)">Normalized decrease in FRET</text>
<text x="0" y="0" font-size="11.8" fill="#231f20" text-anchor="middle" transform="translate(346.9,291.4) rotate(-90)">Normalized decrease in FRET</text>
<text x="58.0" y="237.0" font-size="11.4" fill="#231f20"><tspan font-style="italic">K</tspan><tspan dy="3.9" font-size="9">d</tspan><tspan dy="-3.9"> = 1.0 µM</tspan></text>
<text x="57.7" y="254.6" font-size="11.8" text-anchor="start" font-weight="normal"  fill="#231f20" >Hill coefficient = 2.5</text>
<text x="205.3" y="322.6" font-size="11.4" fill="#231f20"><tspan font-style="italic">K</tspan><tspan dy="3.9" font-size="9">d</tspan><tspan dy="-3.9"> = 10.7 µM</tspan></text>
<text x="205.0" y="339.8" font-size="11.8" text-anchor="start" font-weight="normal"  fill="#231f20" >Hill coefficient = 1.6</text>
<text x="387.7" y="236.9" font-size="11.4" fill="#231f20"><tspan font-style="italic">K</tspan><tspan dy="3.9" font-size="9">d</tspan><tspan dy="-3.9"> = 2.4 µM</tspan></text>
<text x="387.4" y="255.0" font-size="11.8" text-anchor="start" font-weight="normal"  fill="#231f20" >Hill coefficient = 1.4</text>
<text x="513.1" y="236.9" font-size="11.4" fill="#231f20"><tspan font-style="italic">K</tspan><tspan dy="3.9" font-size="9">d</tspan><tspan dy="-3.9"> = 1.1 µM</tspan></text>
<text x="512.8000000000001" y="255.0" font-size="11.8" text-anchor="start" font-weight="normal"  fill="#231f20" >Hill coefficient = 2.5</text>
<line x1="52.6" y1="316.8" x2="52.6" y2="347.3" stroke="#3d3d3d" stroke-width="1.0" />
<line x1="50.4" y1="316.8" x2="54.800000000000004" y2="316.8" stroke="#3d3d3d" stroke-width="1.0" />
<line x1="50.4" y1="347.3" x2="54.800000000000004" y2="347.3" stroke="#3d3d3d" stroke-width="1.0" />
<line x1="55.6" y1="326.4" x2="55.6" y2="341.0" stroke="#3d3d3d" stroke-width="1.0" />
<line x1="53.4" y1="326.4" x2="57.800000000000004" y2="326.4" stroke="#3d3d3d" stroke-width="1.0" />
<line x1="53.4" y1="341.0" x2="57.800000000000004" y2="341.0" stroke="#3d3d3d" stroke-width="1.0" />
<line x1="88.1" y1="318.8" x2="88.1" y2="327.0" stroke="#3d3d3d" stroke-width="1.0" />
<line x1="85.89999999999999" y1="318.8" x2="90.3" y2="318.8" stroke="#3d3d3d" stroke-width="1.0" />
<line x1="85.89999999999999" y1="327.0" x2="90.3" y2="327.0" stroke="#3d3d3d" stroke-width="1.0" />
<line x1="106.3" y1="300.3" x2="106.3" y2="314.8" stroke="#3d3d3d" stroke-width="1.0" />
<line x1="104.1" y1="300.3" x2="108.5" y2="300.3" stroke="#3d3d3d" stroke-width="1.0" />
<line x1="104.1" y1="314.8" x2="108.5" y2="314.8" stroke="#3d3d3d" stroke-width="1.0" />
<line x1="123.5" y1="285.5" x2="123.5" y2="302.4" stroke="#3d3d3d" stroke-width="1.0" />
<line x1="121.3" y1="285.5" x2="125.7" y2="285.5" stroke="#3d3d3d" stroke-width="1.0" />
<line x1="121.3" y1="302.4" x2="125.7" y2="302.4" stroke="#3d3d3d" stroke-width="1.0" />
<line x1="152.5" y1="279.5" x2="152.5" y2="293.0" stroke="#3d3d3d" stroke-width="1.0" />
<line x1="150.3" y1="279.5" x2="154.7" y2="279.5" stroke="#3d3d3d" stroke-width="1.0" />
<line x1="150.3" y1="293.0" x2="154.7" y2="293.0" stroke="#3d3d3d" stroke-width="1.0" />
<rect x="47.60" y="338.40" width="5.6" height="5.6" fill="none" stroke="#d070d6" stroke-width="0.95"/>
<rect x="50.50" y="330.50" width="5.6" height="5.6" fill="none" stroke="#d070d6" stroke-width="0.95"/>
<rect x="51.00" y="332.20" width="5.6" height="5.6" fill="none" stroke="#d070d6" stroke-width="0.95"/>
<rect x="52.00" y="336.40" width="5.6" height="5.6" fill="none" stroke="#d070d6" stroke-width="0.95"/>
<rect x="54.80" y="334.20" width="5.6" height="5.6" fill="none" stroke="#d070d6" stroke-width="0.95"/>
<rect x="58.20" y="334.80" width="5.6" height="5.6" fill="none" stroke="#d070d6" stroke-width="0.95"/>
<rect x="55.40" y="331.00" width="5.6" height="5.6" fill="none" stroke="#d070d6" stroke-width="0.95"/>
<rect x="65.60" y="339.80" width="5.6" height="5.6" fill="none" stroke="#9ac6da" stroke-width="0.95"/>
<rect x="69.20" y="338.86" width="5.6" height="5.6" fill="none" stroke="#9ac6da" stroke-width="0.95"/>
<rect x="75.20" y="332.88" width="5.6" height="5.6" fill="none" stroke="#9ac6da" stroke-width="0.95"/>
<rect x="79.40" y="328.25" width="5.6" height="5.6" fill="none" stroke="#9ac6da" stroke-width="0.95"/>
<rect x="85.00" y="321.91" width="5.6" height="5.6" fill="none" stroke="#9ac6da" stroke-width="0.95"/>
<rect x="89.60" y="316.83" width="5.6" height="5.6" fill="none" stroke="#9ac6da" stroke-width="0.95"/>
<rect x="94.40" y="311.83" width="5.6" height="5.6" fill="none" stroke="#9ac6da" stroke-width="0.95"/>
<rect x="99.00" y="307.43" width="5.6" height="5.6" fill="none" stroke="#9ac6da" stroke-width="0.95"/>
<rect x="103.60" y="303.45" width="5.6" height="5.6" fill="none" stroke="#9ac6da" stroke-width="0.95"/>
<rect x="107.80" y="300.19" width="5.6" height="5.6" fill="none" stroke="#9ac6da" stroke-width="0.95"/>
<rect x="112.20" y="297.15" width="5.6" height="5.6" fill="none" stroke="#9ac6da" stroke-width="0.95"/>
<rect x="116.70" y="294.39" width="5.6" height="5.6" fill="none" stroke="#9ac6da" stroke-width="0.95"/>
<rect x="121.20" y="291.98" width="5.6" height="5.6" fill="none" stroke="#9ac6da" stroke-width="0.95"/>
<rect x="129.00" y="288.47" width="5.6" height="5.6" fill="none" stroke="#9ac6da" stroke-width="0.95"/>
<rect x="134.70" y="286.36" width="5.6" height="5.6" fill="none" stroke="#9ac6da" stroke-width="0.95"/>
<rect x="141.50" y="284.26" width="5.6" height="5.6" fill="none" stroke="#9ac6da" stroke-width="0.95"/>
<rect x="148.70" y="282.43" width="5.6" height="5.6" fill="none" stroke="#9ac6da" stroke-width="0.95"/>
<path d="M69.90,343.47 L71.28,342.30 L72.67,341.04 L74.05,339.73 L75.44,338.35 L76.82,336.93 L78.21,335.46 L79.59,333.95 L80.98,332.42 L82.36,330.87 L83.74,329.30 L85.13,327.73 L86.51,326.16 L87.90,324.60 L89.28,323.05 L90.67,321.52 L92.05,320.01 L93.44,318.52 L94.82,317.06 L96.21,315.63 L97.59,314.24 L98.98,312.88 L100.36,311.56 L101.75,310.28 L103.13,309.03 L104.52,307.83 L105.90,306.66 L107.28,305.53 L108.67,304.44 L110.05,303.39 L111.44,302.38 L112.82,301.41 L114.21,300.47 L115.59,299.56 L116.98,298.69 L118.36,297.86 L119.75,297.05 L121.13,296.28 L122.52,295.54 L123.90,294.83 L125.29,294.14 L126.67,293.48 L128.06,292.85 L129.44,292.25 L130.82,291.66 L132.21,291.10 L133.59,290.56 L134.98,290.05 L136.36,289.55 L137.75,289.08 L139.13,288.62 L140.52,288.18 L141.90,287.75 L143.29,287.35 L144.67,286.95 L146.06,286.58 L147.44,286.22 L148.83,285.87 L150.21,285.53 L151.60,285.21 L152.98,284.90" fill="none" stroke="#111" stroke-width="2.1" stroke-linejoin="round" stroke-linecap="round" />
<line x1="215.7" y1="269.7" x2="215.7" y2="279.4" stroke="#3d3d3d" stroke-width="1.0" />
<line x1="213.5" y1="269.7" x2="217.89999999999998" y2="269.7" stroke="#3d3d3d" stroke-width="1.0" />
<line x1="213.5" y1="279.4" x2="217.89999999999998" y2="279.4" stroke="#3d3d3d" stroke-width="1.0" />
<line x1="222.7" y1="261.5" x2="222.7" y2="271.5" stroke="#3d3d3d" stroke-width="1.0" />
<line x1="220.5" y1="261.5" x2="224.89999999999998" y2="261.5" stroke="#3d3d3d" stroke-width="1.0" />
<line x1="220.5" y1="271.5" x2="224.89999999999998" y2="271.5" stroke="#3d3d3d" stroke-width="1.0" />
<line x1="237.1" y1="250.4" x2="237.1" y2="259.2" stroke="#3d3d3d" stroke-width="1.0" />
<line x1="234.9" y1="250.4" x2="239.29999999999998" y2="250.4" stroke="#3d3d3d" stroke-width="1.0" />
<line x1="234.9" y1="259.2" x2="239.29999999999998" y2="259.2" stroke="#3d3d3d" stroke-width="1.0" />
<rect x="197.80" y="283.80" width="5.6" height="5.6" fill="none" stroke="#e2695e" stroke-width="0.95"/>
<rect x="205.40" y="281.00" width="5.6" height="5.6" fill="none" stroke="#e2695e" stroke-width="0.95"/>
<rect x="212.40" y="272.70" width="5.6" height="5.6" fill="none" stroke="#e2695e" stroke-width="0.95"/>
<rect x="219.40" y="264.50" width="5.6" height="5.6" fill="none" stroke="#e2695e" stroke-width="0.95"/>
<rect x="227.30" y="258.40" width="5.6" height="5.6" fill="none" stroke="#e2695e" stroke-width="0.95"/>
<rect x="234.30" y="252.20" width="5.6" height="5.6" fill="none" stroke="#e2695e" stroke-width="0.95"/>
<rect x="242.20" y="247.00" width="5.6" height="5.6" fill="none" stroke="#e2695e" stroke-width="0.95"/>
<rect x="249.20" y="244.10" width="5.6" height="5.6" fill="none" stroke="#e2695e" stroke-width="0.95"/>
<rect x="256.80" y="241.60" width="5.6" height="5.6" fill="none" stroke="#e2695e" stroke-width="0.95"/>
<rect x="270.90" y="236.60" width="5.6" height="5.6" fill="none" stroke="#e2695e" stroke-width="0.95"/>
<rect x="284.40" y="234.10" width="5.6" height="5.6" fill="none" stroke="#e2695e" stroke-width="0.95"/>
<rect x="299.80" y="232.20" width="5.6" height="5.6" fill="none" stroke="#e2695e" stroke-width="0.95"/>
<path d="M200.60,287.30 C201.83,286.50 205.52,284.63 208.00,282.50 C210.48,280.37 213.00,277.17 215.50,274.50 C218.00,271.83 220.58,268.95 223.00,266.50 C225.42,264.05 227.67,261.83 230.00,259.80 C232.33,257.77 234.50,256.03 237.00,254.30 C239.50,252.57 242.50,250.73 245.00,249.40 C247.50,248.07 249.50,247.27 252.00,246.30 C254.50,245.33 256.38,244.70 260.00,243.60 C263.62,242.50 269.17,240.80 273.70,239.70 C278.23,238.60 282.38,237.77 287.20,237.00 C292.02,236.23 300.03,235.42 302.60,235.10" fill="none" stroke="#111" stroke-width="2.1" stroke-linejoin="round" stroke-linecap="round" />
<line x1="379.0" y1="229.0" x2="379.0" y2="356.5" stroke="#262626" stroke-width="1.0" />
<line x1="378.5" y1="356.0" x2="503.7" y2="356.0" stroke="#262626" stroke-width="1.0" />
<line x1="378.5" y1="229.6" x2="383.1" y2="229.6" stroke="#231f20" stroke-width="1.1" />
<line x1="378.5" y1="257.1" x2="383.1" y2="257.1" stroke="#231f20" stroke-width="1.1" />
<line x1="378.5" y1="285.1" x2="383.1" y2="285.1" stroke="#231f20" stroke-width="1.1" />
<line x1="378.5" y1="313.6" x2="383.1" y2="313.6" stroke="#231f20" stroke-width="1.1" />
<line x1="378.5" y1="342.0" x2="383.1" y2="342.0" stroke="#231f20" stroke-width="1.1" />
<text x="373.6" y="234.0" font-size="11.8" text-anchor="end" font-weight="normal"  fill="#231f20" >2.0</text>
<text x="373.6" y="261.6" font-size="11.8" text-anchor="end" font-weight="normal"  fill="#231f20" >1.5</text>
<text x="373.6" y="289.4" font-size="11.8" text-anchor="end" font-weight="normal"  fill="#231f20" >1.0</text>
<text x="373.6" y="317.7" font-size="11.8" text-anchor="end" font-weight="normal"  fill="#231f20" >0.5</text>
<text x="373.6" y="346.2" font-size="11.8" text-anchor="end" font-weight="normal"  fill="#231f20" >0</text>
<line x1="399.1" y1="356.0" x2="399.1" y2="352.0" stroke="#231f20" stroke-width="1.1" />
<text x="399.1" y="371.3" font-size="11.8" text-anchor="middle" font-weight="normal"  fill="#231f20" >2</text>
<line x1="419.92" y1="356.0" x2="419.92" y2="352.0" stroke="#231f20" stroke-width="1.1" />
<text x="419.92" y="371.3" font-size="11.8" text-anchor="middle" font-weight="normal"  fill="#231f20" >4</text>
<line x1="440.74" y1="356.0" x2="440.74" y2="352.0" stroke="#231f20" stroke-width="1.1" />
<text x="440.74" y="371.3" font-size="11.8" text-anchor="middle" font-weight="normal"  fill="#231f20" >6</text>
<line x1="461.56" y1="356.0" x2="461.56" y2="352.0" stroke="#231f20" stroke-width="1.1" />
<text x="461.56" y="371.3" font-size="11.8" text-anchor="middle" font-weight="normal"  fill="#231f20" >8</text>
<line x1="482.38" y1="356.0" x2="482.38" y2="352.0" stroke="#231f20" stroke-width="1.1" />
<text x="482.38" y="371.3" font-size="11.8" text-anchor="middle" font-weight="normal"  fill="#231f20" >10</text>
<line x1="503.20000000000005" y1="356.0" x2="503.20000000000005" y2="352.0" stroke="#231f20" stroke-width="1.1" />
<text x="503.2" y="371.3" font-size="11.8" text-anchor="middle" font-weight="normal"  fill="#231f20" >12</text>
<text x="441.3" y="389.3" font-size="11.8" text-anchor="middle" fill="#231f20">Cdc42<tspan dy="3.6" font-size="9">G12V</tspan><tspan dy="-3.6"> (µM)</tspan></text>
<line x1="389.9" y1="325.6" x2="389.9" y2="341.4" stroke="#4a4a4a" stroke-width="1.0" />
<line x1="387.7" y1="325.6" x2="392.09999999999997" y2="325.6" stroke="#4a4a4a" stroke-width="1.0" />
<line x1="387.7" y1="341.4" x2="392.09999999999997" y2="341.4" stroke="#4a4a4a" stroke-width="1.0" />
<line x1="401.0" y1="312.5" x2="401.0" y2="327.7" stroke="#4a4a4a" stroke-width="1.0" />
<line x1="398.8" y1="312.5" x2="403.2" y2="312.5" stroke="#4a4a4a" stroke-width="1.0" />
<line x1="398.8" y1="327.7" x2="403.2" y2="327.7" stroke="#4a4a4a" stroke-width="1.0" />
<line x1="412.4" y1="303.2" x2="412.4" y2="316.0" stroke="#4a4a4a" stroke-width="1.0" />
<line x1="410.2" y1="303.2" x2="414.59999999999997" y2="303.2" stroke="#4a4a4a" stroke-width="1.0" />
<line x1="410.2" y1="316.0" x2="414.59999999999997" y2="316.0" stroke="#4a4a4a" stroke-width="1.0" />
<line x1="424.1" y1="296.0" x2="424.1" y2="313.0" stroke="#4a4a4a" stroke-width="1.0" />
<line x1="421.90000000000003" y1="296.0" x2="426.3" y2="296.0" stroke="#4a4a4a" stroke-width="1.0" />
<line x1="421.90000000000003" y1="313.0" x2="426.3" y2="313.0" stroke="#4a4a4a" stroke-width="1.0" />
<line x1="435.2" y1="292.5" x2="435.2" y2="301.9" stroke="#4a4a4a" stroke-width="1.0" />
<line x1="433.0" y1="292.5" x2="437.4" y2="292.5" stroke="#4a4a4a" stroke-width="1.0" />
<line x1="433.0" y1="301.9" x2="437.4" y2="301.9" stroke="#4a4a4a" stroke-width="1.0" />
<line x1="446.9" y1="291.4" x2="446.9" y2="300.1" stroke="#4a4a4a" stroke-width="1.0" />
<line x1="444.7" y1="291.4" x2="449.09999999999997" y2="291.4" stroke="#4a4a4a" stroke-width="1.0" />
<line x1="444.7" y1="300.1" x2="449.09999999999997" y2="300.1" stroke="#4a4a4a" stroke-width="1.0" />
<line x1="458.5" y1="284.1" x2="458.5" y2="294.3" stroke="#4a4a4a" stroke-width="1.0" />
<line x1="456.3" y1="284.1" x2="460.7" y2="284.1" stroke="#4a4a4a" stroke-width="1.0" />
<line x1="456.3" y1="294.3" x2="460.7" y2="294.3" stroke="#4a4a4a" stroke-width="1.0" />
<line x1="469.6" y1="285.0" x2="469.6" y2="289.0" stroke="#4a4a4a" stroke-width="1.0" />
<line x1="467.40000000000003" y1="285.0" x2="471.8" y2="285.0" stroke="#4a4a4a" stroke-width="1.0" />
<line x1="467.40000000000003" y1="289.0" x2="471.8" y2="289.0" stroke="#4a4a4a" stroke-width="1.0" />
<rect x="375.10" y="339.00" width="5.6" height="5.6" fill="none" stroke="#e2695e" stroke-width="0.95"/>
<rect x="387.10" y="330.20" width="5.6" height="5.6" fill="none" stroke="#e2695e" stroke-width="0.95"/>
<rect x="398.20" y="317.60" width="5.6" height="5.6" fill="none" stroke="#e2695e" stroke-width="0.95"/>
<rect x="409.60" y="307.40" width="5.6" height="5.6" fill="none" stroke="#e2695e" stroke-width="0.95"/>
<rect x="421.30" y="302.00" width="5.6" height="5.6" fill="none" stroke="#e2695e" stroke-width="0.95"/>
<rect x="432.40" y="293.20" width="5.6" height="5.6" fill="none" stroke="#e2695e" stroke-width="0.95"/>
<rect x="444.10" y="293.00" width="5.6" height="5.6" fill="none" stroke="#e2695e" stroke-width="0.95"/>
<rect x="455.70" y="286.00" width="5.6" height="5.6" fill="none" stroke="#e2695e" stroke-width="0.95"/>
<rect x="466.80" y="283.90" width="5.6" height="5.6" fill="none" stroke="#e2695e" stroke-width="0.95"/>
<rect x="478.50" y="283.60" width="5.6" height="5.6" fill="none" stroke="#e2695e" stroke-width="0.95"/>
<rect x="490.20" y="282.70" width="5.6" height="5.6" fill="none" stroke="#e2695e" stroke-width="0.95"/>
<path d="M378.60,341.53 L380.04,341.18 L381.48,340.46 L382.91,339.49 L384.35,338.34 L385.79,337.03 L387.23,335.62 L388.67,334.13 L390.11,332.59 L391.54,331.00 L392.98,329.40 L394.42,327.80 L395.86,326.21 L397.30,324.64 L398.74,323.09 L400.17,321.57 L401.61,320.10 L403.05,318.66 L404.49,317.27 L405.93,315.92 L407.37,314.62 L408.80,313.37 L410.24,312.16 L411.68,310.99 L413.12,309.88 L414.56,308.80 L415.99,307.77 L417.43,306.78 L418.87,305.83 L420.31,304.92 L421.75,304.05 L423.19,303.21 L424.62,302.41 L426.06,301.64 L427.50,300.90 L428.94,300.19 L430.38,299.51 L431.82,298.86 L433.25,298.24 L434.69,297.63 L436.13,297.06 L437.57,296.50 L439.01,295.97 L440.44,295.46 L441.88,294.97 L443.32,294.49 L444.76,294.04 L446.20,293.60 L447.64,293.18 L449.07,292.77 L450.51,292.38 L451.95,292.00 L453.39,291.64 L454.83,291.29 L456.27,290.95 L457.70,290.62 L459.14,290.31 L460.58,290.00 L462.02,289.71 L463.46,289.42 L464.90,289.15 L466.33,288.88 L467.77,288.62 L469.21,288.38 L470.65,288.13 L472.09,287.90 L473.52,287.67 L474.96,287.46 L476.40,287.24 L477.84,287.04 L479.28,286.84 L480.72,286.64 L482.15,286.46 L483.59,286.27 L485.03,286.10 L486.47,285.92 L487.91,285.76 L489.35,285.59 L490.78,285.44 L492.22,285.28 L493.66,285.13" fill="none" stroke="#111" stroke-width="2.1" stroke-linejoin="round" stroke-linecap="round" />
<line x1="526.0" y1="356.0" x2="645.7" y2="356.0" stroke="#262626" stroke-width="1.0" />
<line x1="526.5" y1="356.0" x2="526.5" y2="352.0" stroke="#231f20" stroke-width="1.1" />
<text x="526.5" y="371.3" font-size="11.8" text-anchor="middle" font-weight="normal"  fill="#231f20" >0</text>
<line x1="550.24" y1="356.0" x2="550.24" y2="352.0" stroke="#231f20" stroke-width="1.1" />
<text x="550.24" y="371.3" font-size="11.8" text-anchor="middle" font-weight="normal"  fill="#231f20" >0.5</text>
<line x1="573.98" y1="356.0" x2="573.98" y2="352.0" stroke="#231f20" stroke-width="1.1" />
<text x="573.98" y="371.3" font-size="11.8" text-anchor="middle" font-weight="normal"  fill="#231f20" >1.0</text>
<line x1="597.72" y1="356.0" x2="597.72" y2="352.0" stroke="#231f20" stroke-width="1.1" />
<text x="597.72" y="371.3" font-size="11.8" text-anchor="middle" font-weight="normal"  fill="#231f20" >1.5</text>
<line x1="621.46" y1="356.0" x2="621.46" y2="352.0" stroke="#231f20" stroke-width="1.1" />
<text x="621.46" y="371.3" font-size="11.8" text-anchor="middle" font-weight="normal"  fill="#231f20" >2.0</text>
<line x1="645.2" y1="356.0" x2="645.2" y2="352.0" stroke="#231f20" stroke-width="1.1" />
<text x="645.2" y="371.3" font-size="11.8" text-anchor="middle" font-weight="normal"  fill="#231f20" >2.5</text>
<text x="586.2" y="389.0" font-size="11.8" text-anchor="middle" font-weight="normal"  fill="#231f20" >Eps8 (µM)</text>
<rect x="523.60" y="282.80" width="5.6" height="5.6" fill="none" stroke="#d884d8" stroke-width="0.95"/>
<rect x="524.40" y="283.40" width="5.6" height="5.6" fill="none" stroke="#d884d8" stroke-width="0.95"/>
<rect x="525.20" y="283.00" width="5.6" height="5.6" fill="none" stroke="#d884d8" stroke-width="0.95"/>
<rect x="527.70" y="297.80" width="5.6" height="5.6" fill="none" stroke="#d884d8" stroke-width="0.95"/>
<rect x="528.90" y="305.00" width="5.6" height="5.6" fill="none" stroke="#d884d8" stroke-width="0.95"/>
<rect x="530.00" y="313.60" width="5.6" height="5.6" fill="none" stroke="#d884d8" stroke-width="0.95"/>
<rect x="531.50" y="320.50" width="5.6" height="5.6" fill="none" stroke="#d884d8" stroke-width="0.95"/>
<rect x="533.70" y="322.80" width="5.6" height="5.6" fill="none" stroke="#d884d8" stroke-width="0.95"/>
<rect x="536.00" y="324.00" width="5.6" height="5.6" fill="none" stroke="#d884d8" stroke-width="0.95"/>
<rect x="538.20" y="325.80" width="5.6" height="5.6" fill="none" stroke="#d884d8" stroke-width="0.95"/>
<rect x="539.80" y="328.00" width="5.6" height="5.6" fill="none" stroke="#9ac6da" stroke-width="0.95"/>
<rect x="542.80" y="327.20" width="5.6" height="5.6" fill="none" stroke="#9ac6da" stroke-width="0.95"/>
<rect x="546.50" y="326.00" width="5.6" height="5.6" fill="none" stroke="#9ac6da" stroke-width="0.95"/>
<rect x="550.20" y="325.80" width="5.6" height="5.6" fill="none" stroke="#9ac6da" stroke-width="0.95"/>
<rect x="554.00" y="324.80" width="5.6" height="5.6" fill="none" stroke="#9ac6da" stroke-width="0.95"/>
<rect x="559.30" y="319.80" width="5.6" height="5.6" fill="none" stroke="#9ac6da" stroke-width="0.95"/>
<rect x="565.30" y="315.20" width="5.6" height="5.6" fill="none" stroke="#9ac6da" stroke-width="0.95"/>
<rect x="572.10" y="308.50" width="5.6" height="5.6" fill="none" stroke="#9ac6da" stroke-width="0.95"/>
<rect x="578.80" y="305.40" width="5.6" height="5.6" fill="none" stroke="#9ac6da" stroke-width="0.95"/>
<rect x="584.80" y="296.30" width="5.6" height="5.6" fill="none" stroke="#9ac6da" stroke-width="0.95"/>
<rect x="591.20" y="287.70" width="5.6" height="5.6" fill="none" stroke="#9ac6da" stroke-width="0.95"/>
<rect x="597.20" y="276.30" width="5.6" height="5.6" fill="none" stroke="#9ac6da" stroke-width="0.95"/>
<rect x="604.30" y="266.30" width="5.6" height="5.6" fill="none" stroke="#9ac6da" stroke-width="0.95"/>
<rect x="611.30" y="259.60" width="5.6" height="5.6" fill="none" stroke="#9ac6da" stroke-width="0.95"/>
<rect x="620.90" y="248.20" width="5.6" height="5.6" fill="none" stroke="#9ac6da" stroke-width="0.95"/>
<rect x="631.70" y="250.80" width="5.6" height="5.6" fill="none" stroke="#9ac6da" stroke-width="0.95"/>
<rect x="642.40" y="251.60" width="5.6" height="5.6" fill="none" stroke="#9ac6da" stroke-width="0.95"/>
<path d="M543.97,331.25 L545.24,331.03 L546.50,330.78 L547.77,330.48 L549.03,330.15 L550.30,329.76 L551.56,329.33 L552.83,328.86 L554.10,328.33 L555.36,327.74 L556.63,327.10 L557.89,326.41 L559.16,325.65 L560.42,324.84 L561.69,323.97 L562.95,323.04 L564.22,322.05 L565.48,321.00 L566.75,319.89 L568.01,318.73 L569.28,317.52 L570.54,316.25 L571.81,314.94 L573.08,313.58 L574.34,312.17 L575.61,310.72 L576.87,309.24 L578.14,307.73 L579.40,306.18 L580.67,304.61 L581.93,303.02 L583.20,301.41 L584.46,299.79 L585.73,298.16 L586.99,296.52 L588.26,294.88 L589.52,293.24 L590.79,291.60 L592.06,289.98 L593.32,288.36 L594.59,286.76 L595.85,285.18 L597.12,283.61 L598.38,282.07 L599.65,280.55 L600.91,279.05 L602.18,277.59 L603.44,276.15 L604.71,274.73 L605.97,273.35 L607.24,272.00 L608.51,270.69 L609.77,269.40 L611.04,268.15 L612.30,266.92 L613.57,265.74 L614.83,264.58 L616.10,263.46 L617.36,262.37 L618.63,261.31 L619.89,260.28 L621.16,259.28 L622.42,258.32 L623.69,257.38 L624.95,256.47 L626.22,255.60 L627.49,254.75 L628.75,253.92 L630.02,253.13 L631.28,252.36 L632.55,251.62 L633.81,250.90 L635.08,250.20 L636.34,249.53 L637.61,248.88 L638.87,248.25 L640.14,247.64 L641.40,247.06 L642.67,246.49 L643.93,245.94 L645.20,245.41" fill="none" stroke="#111" stroke-width="2.1" stroke-linejoin="round" stroke-linecap="round" />
</svg>
</body></html>
